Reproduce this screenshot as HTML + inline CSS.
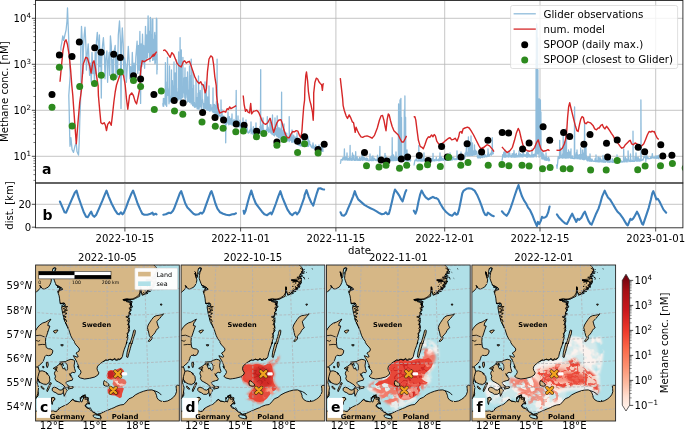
<!DOCTYPE html>
<html><head><meta charset="utf-8"><title>Methane figure</title>
<style>
html,body{margin:0;padding:0;background:#fff}
svg{display:block}
text{font-family:"DejaVu Sans","Liberation Sans",sans-serif;fill:#000}
.b{font-weight:bold}
</style></head><body>
<svg width="685" height="430" viewBox="0 0 685 430">
<defs>
<clipPath id="ca"><rect x="35.5" y="0.5" width="647.4" height="182.5"/></clipPath>
<clipPath id="cb"><rect x="35.5" y="183.0" width="647.4" height="44.80000000000001"/></clipPath>
<clipPath id="cm"><rect x="0" y="0" width="143.7" height="156"/></clipPath>
<filter id="rough" x="-5%" y="-5%" width="110%" height="110%"><feTurbulence type="fractalNoise" baseFrequency="0.45" numOctaves="2" seed="5" result="n"/><feDisplacementMap in="SourceGraphic" in2="n" scale="1.6" xChannelSelector="R" yChannelSelector="G"/></filter>
<filter id="bl05" x="-30%" y="-30%" width="160%" height="160%"><feGaussianBlur stdDeviation="0.45"/></filter>
<filter id="bl07" x="-30%" y="-30%" width="160%" height="160%"><feGaussianBlur stdDeviation="0.7"/></filter>
<filter id="bl1" x="-30%" y="-30%" width="160%" height="160%"><feGaussianBlur stdDeviation="1.3"/></filter>
<filter id="tex1" x="-20%" y="-20%" width="140%" height="140%"><feTurbulence type="turbulence" baseFrequency="0.11" numOctaves="2" seed="4" result="n"/><feColorMatrix in="n" type="matrix" values="0 0 0 0 0  0 0 0 0 0  0 0 0 0 0  0 0 0 -6 2.5" result="a"/><feGaussianBlur in="SourceGraphic" stdDeviation="0.9" result="b"/><feComposite in="b" in2="a" operator="in"/></filter>
<filter id="vein" x="-20%" y="-20%" width="140%" height="140%"><feTurbulence type="turbulence" baseFrequency="0.07 0.1" numOctaves="3" seed="8" result="n"/><feColorMatrix in="n" type="matrix" values="0 0 0 0 0  0 0 0 0 0  0 0 0 0 0  0 0 0 -8 2.3" result="a"/><feGaussianBlur in="SourceGraphic" stdDeviation="0.8" result="b"/><feComposite in="b" in2="a" operator="in"/></filter>
<filter id="tex2" x="-20%" y="-20%" width="140%" height="140%"><feTurbulence type="turbulence" baseFrequency="0.16" numOctaves="2" seed="11" result="n"/><feColorMatrix in="n" type="matrix" values="0 0 0 0 0  0 0 0 0 0  0 0 0 0 0  0 0 0 -10 2.0" result="a"/><feGaussianBlur in="SourceGraphic" stdDeviation="0.7" result="b"/><feComposite in="b" in2="a" operator="in"/></filter>
<filter id="tex3" x="-20%" y="-20%" width="140%" height="140%"><feTurbulence type="fractalNoise" baseFrequency="0.09" numOctaves="3" seed="23" result="n"/><feColorMatrix in="n" type="matrix" values="0 0 0 0 0  0 0 0 0 0  0 0 0 0 0  0 0 0 6 -2.4" result="a"/><feGaussianBlur in="SourceGraphic" stdDeviation="1.2" result="b"/><feComposite in="b" in2="a" operator="in"/></filter>
<linearGradient id="cbg" x1="0" y1="0" x2="0" y2="1"><stop offset="0" stop-color="#67000d"/><stop offset="0.12" stop-color="#a50f15"/><stop offset="0.27" stop-color="#cb181d"/><stop offset="0.42" stop-color="#ef3b2c"/><stop offset="0.55" stop-color="#fb6a4a"/><stop offset="0.68" stop-color="#fc9272"/><stop offset="0.8" stop-color="#fcbba1"/><stop offset="0.9" stop-color="#fee0d2"/><stop offset="1" stop-color="#fff5f0"/></linearGradient>
</defs>
<rect width="685" height="430" fill="#fff"/>
<g id="panel-a">
<line x1="124.9" y1="0.5" x2="124.9" y2="183.0" stroke="#b8b8b8" stroke-width="0.8"/>
<line x1="240.6" y1="0.5" x2="240.6" y2="183.0" stroke="#b8b8b8" stroke-width="0.8"/>
<line x1="335.9" y1="0.5" x2="335.9" y2="183.0" stroke="#b8b8b8" stroke-width="0.8"/>
<line x1="444.7" y1="0.5" x2="444.7" y2="183.0" stroke="#b8b8b8" stroke-width="0.8"/>
<line x1="540.0" y1="0.5" x2="540.0" y2="183.0" stroke="#b8b8b8" stroke-width="0.8"/>
<line x1="655.7" y1="0.5" x2="655.7" y2="183.0" stroke="#b8b8b8" stroke-width="0.8"/>
<line x1="35.5" y1="18.3" x2="682.9" y2="18.3" stroke="#b8b8b8" stroke-width="0.8"/>
<line x1="35.5" y1="64.3" x2="682.9" y2="64.3" stroke="#b8b8b8" stroke-width="0.8"/>
<line x1="35.5" y1="110.3" x2="682.9" y2="110.3" stroke="#b8b8b8" stroke-width="0.8"/>
<line x1="35.5" y1="156.3" x2="682.9" y2="156.3" stroke="#b8b8b8" stroke-width="0.8"/>
<g clip-path="url(#ca)" fill="none" stroke-linejoin="round">
<path d="M60.9,50.8 60.9,47.3 61.9,42.0 62.8,35.9 63.7,40.3 64.9,35.0 66.1,29.8 67.0,21.0 67.5,7.9 68.2,26.3 68.9,43.8 69.6,61.3 70.2,75.3 68.8,95.5 69.2,111.3 69.7,135.8 70.0,146.3 70.9,137.6 72.1,149.8 73.5,152.4 74.9,146.3 76.2,142.8 77.0,151.6 78.5,155.1 79.2,142.8 79.8,120.0 80.5,102.5 81.1,85.0 80.7,52.5 81.5,26.3 82.4,43.8 82.9,73.6 83.3,52.5 84.2,35.0 85.0,27.1 85.9,45.5 86.4,70.1 87.1,56.1 88.2,43.8 88.9,57.8 89.6,75.3 90.3,63.1 91.3,82.3 92.0,52.5 92.9,73.6 93.8,61.3 94.5,84.1 95.2,52.5 95.9,73.6 96.4,42.0 97.3,32.4 98.2,43.8 98.7,77.1 99.4,35.0 100.1,66.6 100.8,50.8 101.3,98.1 101.7,61.3 102.5,45.5 103.4,37.7 104.3,52.5 105.0,78.8 105.7,59.6 106.9,50.8 107.6,82.3 108.2,63.1 109.2,52.5 109.7,75.3 110.4,35.9 111.3,45.5 112.0,73.6 112.7,59.6 113.4,80.6 113.9,52.5 115.2,45.5 115.9,73.6 116.6,52.5 117.5,77.1 118.3,35.0 119.5,21.0 120.4,40.3 121.0,108.6 121.5,49.0 122.3,28.0 123.2,43.8 123.9,77.1 124.5,57.8 125.7,64.8 126.4,82.3 127.1,70.1 128.3,46.4 129.2,61.3 129.9,78.8 130.6,66.6 131.5,82.3 132.3,52.5 133.2,77.1 134.1,63.1 135.0,80.6 135.8,57.8 137.1,41.2 137.8,73.6 138.5,45.5 139.2,70.1 139.9,31.5 140.6,103.4 141.1,43.8 141.8,66.6 142.5,34.2 143.2,63.1 143.7,45.5 144.6,68.3 145.5,26.3 146.2,59.6 146.7,35.0 147.4,57.8 148.1,15.8 148.8,52.5 149.3,31.5 149.5,59.8 149.7,33.9 149.8,57.8 150.0,61.7 150.2,20.2 150.4,17.5 150.6,55.8 150.8,19.1 151.1,52.5 151.2,52.9 151.4,36.0 151.6,35.0 151.8,56.3 152.0,36.3 152.1,56.1 152.2,56.5 152.4,21.9 152.5,19.3 152.6,60.4 152.8,19.0 153.0,57.8 153.1,58.6 153.3,42.4 153.4,40.3 153.7,59.8 153.9,39.5 154.2,56.1 154.4,59.5 154.6,33.8 154.8,32.4 154.9,63.7 155.1,35.2 155.3,57.8 155.4,63.0 155.6,45.6 155.6,43.8 155.8,58.7 156.0,46.3 156.2,57.8 156.2,59.7 156.4,18.1 156.5,18.4 156.6,53.6 156.8,19.1 156.9,52.5 156.9,73.9 157.1,54.1 157.2,70.1" stroke="#8fbcdb" stroke-width="1.3"/>
<path d="M162.8,103.1 163.1,106.2 163.4,98.4 163.7,106.3 164.1,98.7 164.4,99.1 164.8,102.2 165.2,95.3 165.2,104.2 165.4,62.6 165.6,75.2 165.7,102.6 165.9,105.1 166.3,103.2 166.7,106.3 167.1,82.0 167.2,93.8 167.4,91.6 167.5,57.3 167.8,95.4 167.8,88.1 168.1,92.5 168.6,91.3 169.0,103.8 169.2,90.8 169.4,85.5 169.5,66.0 169.8,98.6 169.8,101.3 170.2,101.9 170.6,101.6 170.9,100.5 171.2,95.6 171.3,100.8 171.5,70.0 171.6,99.3 171.8,89.7 171.9,97.1 172.4,80.7 172.8,99.5 173.2,92.5 173.6,85.9 173.8,96.8 173.9,96.7 174.0,62.0 174.2,96.0 174.2,93.4 174.5,100.0 174.8,98.8 175.2,72.8 175.6,96.9 176.0,81.2 176.2,87.0 176.3,86.4 176.5,60.0 176.7,90.3 176.8,88.1 177.0,100.0 177.4,98.9 177.7,99.7 178.0,91.9 178.2,100.0 178.3,99.6 178.5,98.1 178.6,52.0 178.8,95.2 178.8,87.2 179.1,94.4 179.5,98.8 179.7,76.2 179.8,93.3 180.1,37.7 180.2,100.0 180.4,93.0 180.5,92.1 180.8,89.5 181.1,92.5 181.1,99.7 181.3,50.0 181.5,96.6 181.6,97.9 181.8,86.8 182.2,88.5 182.6,94.4 182.7,97.7 182.9,57.3 183.0,96.8 183.2,89.2 183.4,92.9 183.7,90.8 184.2,77.9 184.6,91.2 184.8,97.9 185.0,68.0 185.0,93.2 185.2,94.0 185.3,101.1 185.6,96.0 186.0,87.3 186.3,77.3 186.8,88.0 187.1,97.8 187.2,94.0 187.4,102.0 187.5,72.0 187.7,80.7 187.8,90.3 188.1,97.3 188.5,101.3 188.9,89.9 189.2,100.8 189.3,83.1 189.5,66.0 189.7,102.4 189.8,92.0 190.1,75.4 190.4,102.1 190.9,83.6 190.9,91.1 191.2,104.1 191.2,59.1 191.4,92.6 191.5,101.5 191.9,88.3 192.3,97.1 192.7,105.6 192.8,99.0 192.9,78.8 193.0,72.0 193.2,93.4 193.3,104.5 193.7,85.1 194.0,106.6 194.4,102.5 194.7,107.3 195.1,105.8 195.5,107.2 195.8,103.3 195.9,95.1 196.0,80.0 196.2,97.1 196.3,106.1 196.7,97.3 196.9,107.1 197.2,108.9 197.7,108.9 198.0,93.2 198.2,103.1 198.4,108.6 198.5,76.0 198.8,100.5 198.8,107.9 199.1,109.3 199.4,93.3 199.8,107.0 200.2,90.3 200.6,106.4 200.9,100.3 201.3,108.4 201.7,101.1 201.8,102.5 202.0,84.0 202.2,99.0 202.2,100.6 202.5,99.4 202.9,102.0 203.2,108.3 203.5,110.0 203.8,109.1 204.2,103.4 204.7,107.8 204.8,103.2 205.0,82.0 205.1,101.1 205.2,108.5 205.6,106.7 206.0,108.9 206.4,90.1 206.8,109.9 207.1,101.0 207.5,110.0 207.8,96.9 208.1,107.9 208.4,110.4 208.7,107.3 208.8,110.2 209.0,86.0 209.1,96.1 209.2,101.2 209.5,111.0 209.9,110.7 210.3,110.9 210.6,104.6 211.0,104.8 211.3,109.8 211.8,109.3 212.2,111.1 212.4,108.0 212.8,106.8 212.8,111.7 213.0,88.0 213.2,112.7 213.2,105.2 213.7,112.3 214.1,111.9 214.4,104.4 214.9,113.4 215.2,105.4 215.5,114.0 215.8,113.7 216.0,113.9 216.4,101.6 216.7,113.1 216.8,113.2 217.0,109.9 217.1,59.1 217.2,110.7 217.3,115.2 217.6,113.6 218.0,108.0 218.2,103.9 218.6,116.1 219.0,113.1 219.4,115.5 219.8,115.5 220.3,116.6 220.7,115.6 220.8,120.5 221.0,120.8 221.0,100.0 221.2,115.7 221.3,118.2 221.5,121.2 222.0,109.9 222.4,121.6 222.7,119.1 223.0,122.4 223.4,120.1 223.8,116.0 224.2,121.1 224.7,123.4 225.0,124.0 225.3,123.1 225.4,124.2 225.7,122.5 225.7,142.8 225.9,122.7 226.1,124.2 226.4,124.0 226.7,124.0 227.0,118.7 227.3,121.5 227.7,117.6 227.8,122.7 228.0,112.0 228.2,118.8 228.2,123.0 228.4,117.9 228.8,124.8 229.3,116.6 229.7,122.5 230.1,124.2 230.4,124.2 230.9,118.3 231.3,123.9 231.8,124.4 231.8,119.8 232.0,114.0 232.2,125.3 232.2,125.2 232.5,124.8 232.9,124.4 233.3,120.7 233.7,124.9 234.0,119.3 234.4,124.9 234.7,120.8 235.0,123.6 235.3,125.5 235.6,123.8 235.9,120.4 235.9,124.2 236.2,90.3 236.4,125.5 236.4,124.7 236.8,120.6 237.2,125.1 237.4,125.9 237.7,124.7 237.8,124.8 238.0,116.0 238.1,126.8 238.2,127.0 238.4,125.5 238.8,122.4 239.1,126.7 239.4,124.5 239.7,124.3 240.0,120.2 240.5,128.3 240.8,122.2 241.3,128.2 241.6,127.8 242.0,129.2 242.4,128.7 242.8,126.6 242.8,125.5 243.0,118.0 243.1,123.0 243.2,127.9 243.5,130.1 243.9,127.1 244.2,130.6 244.5,127.8 244.8,131.0 245.2,129.2 245.6,131.5 245.8,128.4 246.0,120.0 246.0,124.5 246.2,131.3 246.4,128.4 246.7,129.8 247.1,127.6 247.5,130.3 247.8,132.7 248.1,132.5 248.5,133.0 249.0,131.8 249.3,132.5 249.6,131.0 250.0,130.1 250.4,129.1 250.8,131.1 250.9,129.7 251.0,122.0 251.2,133.7 251.3,128.4 251.6,131.8 252.0,132.4 252.3,130.3 252.5,131.0 252.9,134.2 253.3,126.7 253.6,133.0 253.9,130.7 254.2,134.7 254.5,133.7 255.0,134.2 255.3,127.8 255.7,134.3 255.8,134.0 256.0,123.0 256.0,132.6 256.2,134.4 256.3,134.6 256.6,130.6 257.0,132.3 257.4,131.7 257.8,134.1 258.1,134.1 258.4,129.9 258.7,130.8 259.1,130.9 259.4,132.5 259.7,133.6 260.0,126.4 260.4,130.4 260.4,133.6 260.7,69.6 260.7,126.6 260.9,130.8 261.1,132.4 261.3,130.8 261.8,130.3 262.2,125.0 262.5,133.0 262.8,128.7 262.8,129.0 263.0,118.0 263.2,131.1 263.2,129.6 263.6,129.1 264.0,132.4 264.4,130.7 264.8,130.4 265.2,131.3 265.5,130.5 265.9,131.6 266.1,131.3 266.5,129.3 266.8,131.0 267.1,127.7 267.1,130.2 267.3,116.6 267.4,128.2 267.6,129.4 267.8,131.0 268.1,127.1 268.5,130.5 268.7,132.3 269.1,129.4 269.5,131.2 269.8,131.9 269.9,131.9 270.0,119.0 270.2,131.3 270.2,131.4 270.5,124.9 270.9,133.1 271.2,122.4 271.5,130.1 271.8,132.6 272.2,134.6 272.2,131.8 272.5,114.9 272.7,132.9 272.8,133.9 273.0,132.6 273.5,134.1 273.8,135.4 274.3,134.5 274.5,135.9 274.8,131.4 274.9,124.6 275.0,118.0 275.2,129.7 275.3,129.7 275.6,134.6 276.1,132.9 276.3,128.7 276.7,136.2 276.9,135.2 277.0,135.4 277.2,115.8 277.3,130.1 277.4,134.7 277.5,124.9 277.8,136.8 278.3,127.7 278.6,137.7 279.0,134.2 279.4,138.0 279.7,128.0 280.0,137.7 280.4,130.3 280.7,138.7 280.9,128.8 281.3,136.0 281.4,137.3 281.6,92.2 281.7,128.8 281.9,137.7 282.1,139.0 282.5,136.7 282.8,139.4 283.2,130.1 283.6,134.3 283.8,134.9 283.9,137.9 284.0,124.0 284.2,139.3 284.2,134.9 284.5,136.2 284.9,135.0 285.2,132.4 285.6,136.7 286.0,134.9 286.3,140.2 286.7,133.2 286.9,140.7 287.3,139.1 287.6,141.0 288.0,138.6 288.4,137.1 288.9,139.5 288.9,138.3 289.2,141.7 289.2,116.6 289.4,139.6 289.5,140.1 289.9,140.3 290.3,135.1 290.7,140.2 291.0,134.6 291.3,141.0 291.6,136.1 291.8,141.8 291.9,142.3 292.0,130.0 292.2,138.0 292.2,138.6 292.6,142.1 293.0,139.0 293.3,139.9 293.7,135.1 294.0,142.2 294.4,136.9 294.9,143.0 295.2,142.6 295.5,139.3 295.9,136.9 296.2,140.7 296.5,142.5 296.8,142.1 297.0,140.4 297.0,133.0 297.2,143.1 297.2,142.0 297.6,144.5 297.9,143.3 298.3,143.5 298.5,145.1 298.9,143.6 299.2,143.6 299.5,143.1 299.8,145.6 300.1,145.6 300.5,141.4 300.7,146.0 301.1,143.4 301.5,145.9 301.9,144.3 302.3,145.9 302.6,139.8 302.8,144.9 303.0,136.0 303.1,144.3 303.2,145.6 303.4,146.3 303.8,145.9 304.3,143.9 304.7,145.9 305.0,146.5 305.4,145.2 305.8,146.2 306.2,146.3 306.6,145.9 306.9,145.9 307.3,146.2 307.7,144.3 307.8,146.1 308.0,137.0 308.2,140.1 308.2,146.4 308.6,146.2 308.9,140.4 309.2,143.7 309.6,141.4 309.9,144.8 310.2,144.7 310.6,144.7 310.9,146.3 311.3,146.9 311.6,147.2 311.9,146.2 312.3,148.0 312.7,146.3 313.0,142.8 313.2,147.5 313.6,144.8 313.9,148.5 314.3,146.6 314.7,148.9 315.1,149.5 315.4,149.1 315.7,144.8 316.2,149.5 316.5,147.3 316.7,150.2 317.1,149.9 317.4,149.7 317.7,146.6 318.0,148.8 318.4,147.8 318.6,150.1 319.0,144.9 319.3,148.4 319.7,146.8 320.1,151.0 320.6,148.7 321.1,148.6 321.4,147.2 321.8,151.5 322.1,147.7 322.4,149.3 322.7,147.6 323.0,151.3 323.5,151.2" stroke="#8fbcdb" stroke-width="1.3"/>
<path d="M340.3,163.7 340.7,162.4 341.0,159.8 341.5,159.4 342.0,159.9 342.4,160.0 342.9,157.6 343.2,158.1 343.6,158.1 344.1,160.1 344.1,158.2 344.4,149.0 344.6,156.3 344.6,158.9 345.0,156.7 345.4,159.3 345.9,160.0 346.2,156.9 346.5,158.6 346.8,158.4 346.8,157.7 347.0,153.0 347.2,158.2 347.3,160.1 347.6,160.1 347.9,159.7 348.3,158.6 348.8,160.2 349.2,157.7 349.4,160.2 349.8,160.1 349.9,159.5 350.1,145.5 350.2,159.9 350.4,158.5 350.5,157.9 350.9,160.2 351.4,159.9 351.7,160.2 352.1,155.9 352.2,159.1 352.5,153.0 352.6,160.2 352.8,159.5 353.0,158.4 353.4,159.8 353.8,155.2 354.3,160.3 354.8,160.3 355.2,160.2 355.4,160.3 355.5,160.3 355.7,151.7 355.9,158.7 356.0,157.7 356.3,160.1 356.7,160.2 357.1,156.6 357.5,160.3 357.8,160.3 358.3,159.2 358.8,160.4 359.2,159.5 359.6,157.3 360.0,160.4 360.3,160.1 360.6,160.4 361.1,157.7 361.6,159.7 361.8,158.3 361.9,158.7 362.0,153.5 362.2,159.0 362.3,160.4 362.7,155.3 363.1,158.6 363.3,160.1 363.7,159.6 364.2,157.4 364.5,158.6 364.9,160.2 365.4,160.1 365.8,158.1 366.4,160.4 366.8,157.8 367.3,160.4 367.8,158.7 368.1,160.5 368.6,160.5 369.1,160.5 369.3,160.4 369.8,160.4 369.8,160.5 370.0,154.0 370.2,157.8 370.2,160.4 370.6,159.8 371.0,160.5 371.5,160.5 371.9,156.7 372.4,160.5 372.9,155.8 373.4,160.5 373.8,160.4 374.1,158.9 374.5,158.2 375.0,160.1 375.4,160.4 375.7,159.5 376.0,159.9 376.4,160.5 376.7,160.0 377.2,160.5 377.5,155.2 377.9,158.8 378.3,160.5 378.7,160.4 379.2,159.8 379.6,160.3 379.6,158.0 379.9,146.4 380.0,156.7 380.1,160.2 380.3,160.5 380.6,157.2 381.1,160.5 381.5,159.1 382.0,160.5 382.4,159.8 382.9,160.5 383.4,160.0 383.7,159.8 384.1,160.4 384.6,160.5 384.8,158.5 385.0,153.5 385.0,158.2 385.2,158.2 385.4,160.4 385.8,155.9 386.1,158.4 386.4,160.3 386.7,158.3 387.1,159.7 387.6,160.5 388.0,158.8 388.4,159.5 388.9,159.8 389.2,160.5 389.7,157.9 390.2,160.5 390.6,157.0 391.0,160.5 391.4,155.9 391.7,160.5 391.9,160.0 392.1,157.6 392.2,137.7 392.4,160.0 392.5,160.5 392.9,158.9 393.2,160.5 393.5,154.9 394.0,160.5 394.5,160.4 394.9,157.2 395.4,157.3 395.7,160.5 395.8,160.2 396.0,152.0 396.2,159.6 396.2,159.9 396.5,160.4 396.9,157.6 397.3,160.0 397.7,160.4 398.1,160.4 398.3,157.8 398.6,104.0 398.6,158.5 398.9,159.2 399.0,158.4 399.1,160.5 399.3,112.0 399.4,157.0 399.6,157.9 399.7,158.7 399.8,158.8 400.0,100.0 400.3,160.0 400.3,159.2 400.6,158.3 400.7,160.6 400.9,98.3 401.1,158.2 401.2,158.5 401.2,158.8 401.4,160.5 401.5,117.5 401.8,159.4 401.8,157.9 402.3,160.7 402.8,157.0 403.1,160.5 403.7,160.7 404.0,157.9 404.1,160.7 404.3,110.0 404.5,160.7 404.6,159.1 404.6,159.2 404.9,96.0 405.0,160.6 405.2,158.6 405.3,159.6 405.4,156.7 405.6,117.5 405.8,160.8 405.9,158.0 406.2,159.9 406.7,160.8 406.8,159.8 407.0,150.0 407.2,160.4 407.2,160.7 407.6,160.9 408.0,159.8 408.4,160.9 408.8,160.6 409.2,158.2 409.6,160.7 410.1,160.9 410.4,160.9 410.9,159.6" stroke="#8fbcdb" stroke-width="1.3"/>
<path d="M414.0,165.5 414.4,162.8 414.9,160.4 415.4,159.8 415.8,159.9 416.2,160.8 416.5,157.5 416.9,159.5 417.2,160.3 417.5,160.9 417.9,161.0 418.3,161.0 418.6,159.9 418.7,160.5 418.8,145.5 419.1,159.4 419.1,160.5 419.4,156.7 419.9,161.0 420.4,156.9 420.9,161.0 421.3,159.0 421.6,161.0 422.1,158.8 422.5,161.0 422.8,160.7 423.2,161.0 423.6,156.9 423.8,160.6 424.0,153.0 424.0,160.7 424.2,158.8 424.5,158.8 425.0,159.9 425.5,160.8 425.9,160.8 426.4,160.0 426.9,160.8 427.2,160.7 427.5,160.9 427.8,159.9 428.1,160.9 428.5,159.5 429.0,161.0 429.5,159.9 429.9,160.5 430.4,160.3 430.8,158.5 431.1,158.9 431.5,160.9 431.9,158.6 432.4,160.9 432.8,158.7 433.0,159.6 433.0,153.5 433.2,160.8 433.4,160.2 433.8,160.3 434.3,160.8 434.7,159.5 435.1,160.8 435.5,160.0 435.9,159.6 436.3,157.5 436.7,160.6 437.0,159.5 437.5,160.3 438.0,160.2 438.3,160.7 438.8,158.8 439.2,160.7 439.7,157.0 439.8,160.5 440.0,153.0 440.1,160.7 440.2,160.0 440.4,156.7 440.8,160.2 441.3,156.8 441.7,160.3 442.2,158.4 442.6,160.1 442.9,158.5 443.3,159.7 443.6,160.4 443.9,159.7 444.4,158.6 444.8,159.4 445.3,159.1 445.6,160.4 446.0,160.0 446.4,160.0 446.9,160.3 447.3,160.3 447.6,157.3 448.0,158.4 448.4,160.2 448.8,159.9 449.3,155.7 449.7,160.1 449.8,159.7 450.0,158.2 450.0,153.0 450.2,160.1 450.3,160.1 450.7,160.0 451.3,160.0 451.7,159.9 452.0,159.3 452.4,157.4 452.7,159.9 453.2,157.5 453.6,159.1 453.9,157.9 454.4,159.7 454.9,159.4 455.4,159.0 455.7,159.7 456.1,158.5 456.4,159.2 456.8,158.4 456.9,159.6 457.0,150.8 457.2,159.4 457.4,158.9 457.8,159.4 458.2,159.4 458.7,159.4 459.1,157.5 459.5,159.3 460.0,155.0 460.5,159.1 460.8,157.5 460.8,159.3 461.0,152.0 461.2,157.2 461.3,159.2 461.7,154.5 462.2,158.9 462.6,158.2 463.1,159.1 463.5,157.3 464.0,157.9 464.4,159.0 464.7,158.4 465.1,153.1 465.6,156.2 466.1,150.7 466.2,153.7 466.5,143.0 466.6,153.6 466.8,154.8 467.1,152.2 467.6,155.8 467.9,153.4 468.1,152.1 468.3,155.7 468.4,136.8 468.6,154.8 468.8,152.9 469.2,155.5 469.4,152.6 469.6,155.1 469.6,142.0 469.9,153.8 470.0,155.6 470.5,151.0 470.8,152.2 470.8,155.1 471.0,135.9 471.2,153.5 471.3,153.8 471.7,155.4 472.1,155.1 472.2,154.0 472.5,143.0 472.5,155.3 472.8,153.3 472.9,155.1 473.2,151.0 473.6,155.2 474.0,153.7 474.2,153.3 474.3,152.6 474.5,145.0 474.7,155.1 474.8,155.1 475.2,149.8 475.6,154.7 476.0,150.8 476.3,152.3 476.8,151.8 477.3,157.0 477.6,157.1 477.9,157.9 478.2,156.2 478.7,157.9 479.2,153.4 479.5,157.7 479.9,157.9 480.4,158.0 480.8,155.9 481.3,157.4 481.7,156.8 482.0,155.2 482.5,157.4 482.8,157.6 483.2,153.4 483.7,156.0 483.8,155.6 484.0,154.2 484.0,150.0 484.2,154.8 484.4,157.2 484.7,154.3 485.2,156.5 485.6,155.2 486.1,156.9 486.4,156.5 486.7,156.6 487.0,156.4 487.4,156.0 487.6,154.0 487.8,155.8 488.0,156.5 488.0,149.0 488.2,154.0 488.5,152.6 489.0,156.2 489.3,156.1 489.9,154.6 490.3,154.7 490.6,154.1 491.0,152.8 491.4,155.1 491.6,150.5 492.1,152.0 492.1,154.3 492.3,137.7 492.5,153.6 492.6,151.0 492.9,150.1 493.3,153.7 493.7,154.0" stroke="#8fbcdb" stroke-width="1.3"/>
<path d="M501.9,160.7 502.3,159.3 502.7,154.6 502.9,156.7 503.2,156.3 503.4,156.9 503.8,152.1 504.2,157.0 504.4,152.8 504.7,155.9 504.8,155.0 504.9,152.3 505.0,150.0 505.1,157.0 505.2,156.2 505.3,153.3 505.7,157.0 505.9,152.8 506.2,156.5 506.4,156.6 506.8,156.0 507.0,156.9 507.2,156.4 507.5,156.2 507.8,156.4 508.1,153.5 508.4,157.0 508.7,154.0 508.8,155.2 508.9,156.0 509.0,151.0 509.2,153.4 509.2,156.2 509.5,156.7 509.7,153.0 510.0,155.2 510.3,156.6 510.7,156.9 510.9,155.9 511.2,157.0 511.5,155.5 511.8,157.0 512.2,153.6 512.5,156.9 512.9,155.8 513.2,157.0 513.6,152.8 513.8,155.8 513.9,156.7 514.0,150.5 514.2,152.7 514.2,157.0 514.4,157.0 514.7,156.4 515.0,157.0 515.2,154.3 515.5,157.0 515.8,154.9 516.1,156.1 516.3,153.3 516.7,157.0 516.9,155.3 517.2,156.9 517.4,155.7 517.7,156.5 518.0,156.7 518.4,155.9 518.6,153.6 518.8,155.1 519.0,156.9 519.0,151.0 519.2,155.8 519.3,155.8 519.6,155.8 519.9,156.4 520.2,156.8 520.6,153.7 520.9,155.6 521.3,156.9 521.6,154.6 522.0,156.4 522.3,156.3 522.5,155.1 522.8,157.0 522.8,156.8 523.0,150.0 523.1,152.7 523.2,156.7 523.4,154.8 523.7,153.7 524.1,155.1 524.3,154.6 524.6,156.2 524.8,155.1 525.2,156.4 525.5,155.2 525.8,154.7 526.0,156.1 526.4,157.0 526.7,152.7 527.0,157.0 527.3,155.1 527.5,157.0 527.7,156.2 527.8,156.3 528.0,151.0 528.0,157.0 528.2,156.4 528.3,153.4 528.6,156.5 529.0,156.5 529.3,156.7 529.6,154.6 529.9,156.9 530.2,156.4 530.5,156.9 530.8,157.0 531.1,155.2 531.3,154.9 531.6,156.9 531.8,156.3 532.0,149.0 532.0,156.6 532.2,155.1 532.2,155.1 532.5,156.9 532.8,156.8 533.1,156.8 533.4,154.4 533.7,156.6 534.0,156.9 534.3,154.5 534.7,155.4 535.0,153.7 535.3,155.7 535.6,147.2 536.0,140.5 536.0,140.9 536.1,60.0 536.2,130.9 536.2,156.9 536.2,147.2 536.4,30.0 536.5,152.8 536.5,138.0 536.6,141.1 536.7,24.0 536.8,136.8 536.9,139.3 536.9,147.5 537.0,28.0 537.1,147.7 537.1,147.4 537.1,148.6 537.3,45.0 537.3,145.7 537.4,145.0 537.5,139.5 537.6,38.0 537.6,153.9 537.8,138.2 537.8,152.8 537.9,70.0 537.9,153.9 538.0,150.1 538.2,151.7 538.2,135.8 538.4,99.0 538.4,120.7 538.5,149.6 538.8,147.9 538.8,133.5 538.9,103.0 539.0,137.2 539.1,157.2 539.2,137.9 539.3,152.9 539.4,99.0 539.5,141.0 539.6,139.6 539.8,146.9 539.9,104.0 540.0,149.9 540.0,146.9 540.2,148.1 540.2,150.9 540.4,100.0 540.5,139.2 540.6,150.7 540.8,152.9 540.9,156.4 540.9,112.0 541.0,150.7 541.1,155.4 541.5,152.4 541.8,158.8 542.1,152.6 542.4,158.7 542.8,156.5 542.8,158.9 543.0,153.0 543.0,159.0 543.2,156.9 543.3,154.4 543.6,157.7 544.0,155.0 544.3,159.8 544.5,157.8 544.8,159.9 545.1,157.4 545.4,160.0 545.8,159.5 545.8,157.5 546.0,160.0 546.0,153.0 546.2,158.5 546.3,160.3 546.6,158.6 546.9,157.5 547.2,160.1 547.5,159.7 547.8,160.1 548.2,158.3 548.5,160.7 548.7,157.3 548.9,160.8 549.2,158.8 549.5,160.2 549.9,160.9" stroke="#8fbcdb" stroke-width="1.3"/>
<path d="M556.6,164.5 557.0,168.3 557.3,165.9 557.7,162.6 558.2,156.6 558.5,158.7 558.9,158.7 559.4,158.2 559.5,156.8 559.7,140.3 559.9,158.0 560.0,156.1 560.2,155.0 560.5,154.9 560.7,157.5 560.8,148.0 561.0,156.9 561.2,157.6 561.7,156.0 562.2,158.0 562.6,153.9 562.9,158.0 563.0,156.1 563.2,135.0 563.4,157.5 563.5,154.8 563.7,157.9 564.0,150.4 564.0,155.8 564.3,142.0 564.4,157.7 564.5,157.5 564.8,156.7 565.1,158.0 565.5,157.0 565.5,157.2 565.8,128.9 565.9,158.0 566.0,156.9 566.2,154.5 566.2,157.4 566.5,140.0 566.5,158.0 566.8,155.2 566.9,152.4 567.2,157.9 567.7,152.9 568.0,158.0 568.2,157.3 568.4,157.0 568.5,150.0 568.8,154.4 568.9,157.9 569.3,156.5 569.6,157.2 569.9,151.8 570.3,158.2 570.7,155.3 570.8,154.8 571.0,149.0 571.0,158.1 571.2,157.8 571.4,157.8 571.9,158.3 572.3,155.8 572.7,158.4 573.0,158.2 573.5,158.5 573.9,158.4 574.3,157.4 574.3,158.5 574.6,107.0 574.7,157.8 574.9,158.3 575.1,158.6 575.5,158.0 575.9,155.5 576.4,152.5 576.8,158.7 576.8,158.7 577.0,150.0 577.2,155.2 577.2,156.1 577.6,158.7 578.0,154.9 578.3,156.5 578.7,155.7 579.0,158.9 579.5,154.6 580.0,159.0 580.3,158.8 580.5,159.0 580.6,159.0 580.7,148.0 581.0,157.8 581.0,155.8 581.3,156.9 581.7,154.9 582.0,159.2 582.2,155.7 582.5,158.3 582.5,150.0 582.8,156.0 582.8,159.4 583.1,152.9 583.5,159.6 583.8,159.5 584.3,159.7 584.3,156.2 584.6,123.7 584.8,155.2 584.9,159.4 585.2,158.2 585.6,159.2 585.8,156.0 585.9,155.3 586.0,147.0 586.2,157.1 586.3,155.3 586.8,159.9 587.2,160.7 587.6,160.9 588.0,156.7 588.4,160.1 588.6,158.6 589.1,161.1 589.5,156.4 589.8,161.1 590.0,161.0 590.0,154.0 590.2,160.3 590.3,160.4 590.6,161.2 590.9,158.8 591.4,161.3 591.7,160.0 592.1,159.1 592.5,160.9 593.0,161.4 593.4,160.9 593.9,161.3 594.3,161.4 594.8,161.3 595.1,158.7 595.6,161.6 595.8,161.5 596.0,161.0 596.0,155.0 596.2,161.0 596.3,161.7 596.8,160.7 597.1,161.7 597.5,161.1 597.8,161.8 598.1,156.9 598.5,161.9 599.0,157.1 599.4,161.9 599.8,161.0 600.1,161.8 600.4,157.8 600.8,161.6 601.3,159.9 601.7,162.0 602.0,162.1 602.4,160.7 602.8,160.0 602.8,161.9 603.0,155.5 603.2,162.1 603.2,159.8 603.7,158.8 604.2,162.1 604.5,158.8 604.8,162.1 605.3,161.5 605.7,162.2 606.0,160.7 606.5,161.0 606.9,158.3 607.4,162.1 607.8,162.1 608.2,162.0 608.5,160.0 608.8,162.2 609.3,162.3 609.6,162.2 609.8,160.4 609.9,159.9 610.0,156.0 610.2,161.4 610.2,160.3 610.6,162.0 611.0,162.2 611.4,161.8 611.8,161.9 612.3,158.7 612.6,162.4 613.0,161.0 613.3,162.4 613.6,162.0 614.0,160.1 614.5,159.1 615.0,160.2 615.5,159.5 615.7,162.0 616.2,162.0 616.6,160.2 616.8,161.6 617.0,160.4 617.0,155.0 617.2,160.3 617.3,162.4 617.7,160.2 618.1,162.3 618.5,161.6 618.9,162.2 619.3,160.7 619.7,162.2 620.0,158.4 620.4,162.2 620.9,161.8 621.2,162.0 621.6,160.9 622.0,162.1 622.4,162.0 622.8,161.8 623.1,161.2 623.4,161.9 623.5,160.6 623.7,149.0 623.9,159.1 624.0,160.2 624.2,159.1 624.6,161.9 625.1,161.9 625.4,157.2 625.9,160.9 626.2,158.7 626.5,161.8 626.8,161.8 627.2,161.8 627.6,159.1 627.9,159.4 628.0,159.9 628.1,150.8 628.4,160.2 628.4,157.3 628.9,161.7 629.4,161.0 629.8,161.0 630.2,159.6 630.3,161.5 630.5,154.0 630.7,160.8 630.8,159.0 631.0,159.6 631.3,161.3 631.7,161.4 632.2,160.9 632.6,161.3 632.8,161.1 633.0,159.9 633.0,131.2 633.2,161.4 633.4,161.4 633.9,161.4 634.3,160.9 634.7,161.3 635.0,157.0 635.4,160.6 635.8,160.3 635.9,156.1 636.0,153.0 636.2,161.1 636.2,160.8 636.7,157.5 637.0,161.2 637.5,158.5 637.8,161.0 638.1,157.0 638.5,159.2 638.9,161.1 639.3,161.1 639.8,159.0 640.1,161.0 640.5,159.7 640.6,160.7 640.9,160.8 640.9,100.0 641.2,159.0 641.2,160.1 641.5,160.5 642.0,160.4 642.4,159.7 642.7,159.8 643.1,160.0 643.5,158.2 644.0,156.2 644.3,157.7 644.8,157.5 645.2,156.9 645.5,156.6 645.7,159.1 645.8,161.5 646.0,153.7 646.0,156.4 646.5,158.9 646.9,155.7 647.3,158.4 647.7,157.0 648.1,158.8 648.4,158.1 649.0,158.5 649.3,158.3 649.7,158.6 650.0,158.6 650.5,158.4 650.9,156.7 651.2,158.4 651.5,157.9 651.9,157.6 652.3,153.6 652.6,156.1 653.0,158.2 653.4,157.9 653.9,157.5 654.4,158.0 654.8,158.0 655.2,156.2 655.6,157.8 655.9,158.2 656.2,155.8 656.5,158.3 656.9,156.6 657.4,158.1 657.7,155.9 658.2,158.4 658.5,155.5 659.0,158.8 659.3,158.8" stroke="#8fbcdb" stroke-width="1.3"/>
<path d="M60.0,81.8 61.3,67.8 63.0,50.3 64.8,41.5 66.0,39.8 67.4,44.2 69.2,55.5 70.6,69.6 71.8,85.3 72.8,95.5 73.9,111.3 75.3,130.6 76.3,143.7 77.9,123.5 79.7,102.5 81.4,90.3 82.0,80.1 83.2,64.3 85.8,57.3 87.5,58.2 89.7,66.1 91.1,73.1 92.8,62.5 94.0,60.8 95.4,67.8 97.2,80.1 98.1,85.3 98.4,95.5 99.8,111.3 100.9,122.7 102.5,123.9 104.2,122.7 105.4,125.3 106.5,130.6 107.7,124.4 109.5,121.8 111.2,125.3 112.4,115.7 113.8,102.5 115.2,92.0 116.5,85.0 118.2,80.1 120.0,74.8 121.7,72.7 123.5,75.7 124.7,81.8 125.2,85.3 126.5,99.0 127.8,109.2 129.6,95.5 131.7,92.9 133.4,95.5 135.2,101.6 136.6,103.9 138.4,95.5 139.8,88.5 140.1,78.3 141.0,67.8 142.2,60.8 144.5,61.7 147.1,59.9 150.6,58.2 153.2,54.7 155.0,53.8 152.6,56.4 154.4,55.5 155.8,52.9 156.7,51.7" stroke="#d62728" stroke-width="1.4"/>
<path d="M163.1,50.6 164.9,49.9 166.6,51.7 168.4,54.7 170.2,57.3 171.9,52.6 173.7,54.7 175.4,59.0 177.2,63.4 178.9,65.7 181.2,66.9 183.3,61.7 184.7,60.8 186.3,63.1 187.7,62.0 189.4,61.3 191.2,66.1 192.9,71.3 194.7,76.6 196.9,81.0 199.1,83.6 200.8,81.8 202.0,84.5 203.4,85.0 205.2,92.9 206.4,88.5 207.5,71.3 209.0,59.0 210.8,55.9 212.5,57.3 213.6,64.3 214.8,76.6 216.2,85.3 216.6,95.5 218.0,107.8 219.7,113.0 221.8,112.2 223.6,111.3 225.7,112.2 227.1,108.7 228.5,109.5 229.7,106.9 230.9,108.7 232.3,107.8 234.1,106.9 236.2,105.7" stroke="#d62728" stroke-width="1.4"/>
<path d="M243.2,95.5 244.1,104.3 245.5,111.3 246.7,109.5 248.1,112.2 249.5,113.0 250.7,103.4 251.6,113.9 253.4,111.3 255.1,110.9 256.9,110.4 258.6,112.2 260.4,116.5 262.1,120.9 263.9,123.5 265.6,124.4 267.7,122.7 270.0,118.3 270.2,118.4 271.6,123.7 273.0,129.8 273.7,132.4 275.1,128.0 276.9,122.8 278.6,120.2 280.8,119.6 282.1,122.8 283.9,129.8 285.7,135.0 287.4,137.7 289.2,137.7 290.9,134.2 292.7,131.5 294.4,131.9 296.2,130.7 297.9,131.2 299.7,135.9 300.9,137.7 301.9,131.5 302.6,121.0 303.7,107.0 304.6,100.0 304.9,87.8 305.8,75.5 306.5,72.0 307.6,80.8 308.4,91.3 309.7,100.1 311.1,105.3 312.5,112.3 313.2,120.2 313.7,108.8 313.7,93.1 314.9,82.5 316.3,78.2 317.7,79.0 318.9,81.7 320.2,83.4 321.6,84.7 322.4,90.4 323.0,84.3 323.7,83.4" stroke="#d62728" stroke-width="1.4"/>
<path d="M340.3,78.2 341.2,86.1 342.6,98.3 343.1,105.3 344.3,110.5 346.1,115.8 347.5,118.4 349.2,114.9 351.0,118.4 352.4,121.9 353.6,122.8 355.2,132.4 356.1,127.2 357.5,130.7 359.2,134.2 361.0,136.8 362.7,137.3 364.5,136.4 367.1,135.9 369.7,136.8 372.0,138.2 374.1,135.9 374.6,135.0 377.3,128.0 379.4,120.2 381.1,115.8 382.5,115.4 383.9,120.2 385.1,126.3 386.0,130.7 387.2,119.3 388.3,114.0 389.2,114.9 390.4,120.2 392.1,126.3 393.9,130.7 396.5,133.3 398.3,135.0 400.0,138.5 401.8,142.0 403.5,142.0 405.3,138.5 406.5,135.9" stroke="#d62728" stroke-width="1.4"/>
<path d="M413.7,117.0 414.9,116.6 415.8,120.2 417.0,129.8 418.4,140.3 420.2,146.4 421.9,147.3 423.3,148.7 424.9,144.7 426.7,139.4 428.4,136.8 429.8,137.3 431.6,135.0 433.0,136.8 434.2,134.5 435.4,135.9 436.8,141.2 438.6,143.8 440.3,144.7 443.0,142.9 445.6,140.6 448.2,138.5 450.0,137.7 451.7,139.9 453.5,139.4 455.2,138.2 457.0,141.2 458.7,136.8 459.6,132.4 461.0,131.5 461.9,133.3 463.1,128.9 464.9,128.0 467.5,127.2 469.2,128.0 471.0,130.7 473.6,135.0 476.2,140.3 478.9,145.6 481.5,149.9 484.1,147.3 481.8,148.2 484.4,146.9 487.0,144.7 489.6,145.9 492.3,149.1 494.0,151.7" stroke="#d62728" stroke-width="1.4"/>
<path d="M501.9,146.9 504.5,149.9 507.1,152.6 509.8,150.8 512.4,147.3 514.5,140.3 516.3,133.3 518.2,128.4 519.4,130.7 521.2,138.5 522.9,144.7 525.2,149.1 527.3,150.8 529.9,151.2 532.5,150.4 534.7,147.3 536.4,142.9 538.2,139.9 539.6,144.7 541.0,149.1 543.1,151.2 545.7,150.8 548.0,149.6 549.5,150.8" stroke="#d62728" stroke-width="1.4"/>
<path d="M556.5,150.3 559.7,150.4 562.3,148.2 564.4,143.8 565.8,138.5 566.7,131.5 567.6,117.5 568.6,107.0 569.7,102.6 570.7,107.0 572.0,112.3 573.7,119.3 575.5,126.3 576.9,130.7 578.1,131.5 579.5,124.5 580.7,119.3 582.1,116.6 583.4,117.5 584.6,122.8 586.0,123.7 587.7,121.9 590.4,122.8 593.0,125.4 594.7,128.9 596.5,129.8 598.2,128.0 599.2,128.0 600.9,125.4 602.3,124.5 603.5,127.2 604.9,128.9 606.5,126.3 607.9,128.0 609.7,130.7 611.4,133.3 613.2,135.9 614.9,139.4 616.7,141.2 618.4,143.8 620.2,146.4 621.9,148.2 623.7,147.3 625.4,144.7 627.2,142.9 628.9,141.2 630.2,140.3 631.6,143.8 633.3,144.7 635.1,142.9 636.8,143.8 638.6,145.6 640.3,146.4 642.1,145.6 643.8,143.8 645.6,139.4 647.3,135.0 649.1,131.5 650.8,132.1 652.1,131.2 653.5,131.9 654.3,131.5 655.7,135.0 657.0,137.7 658.7,139.4" stroke="#d62728" stroke-width="1.4"/>
</g>
<g clip-path="url(#ca)">
<circle cx="52.0" cy="94.4" r="3.5" fill="#000"/>
<circle cx="59.35" cy="55.0" r="3.5" fill="#000"/>
<circle cx="72.0" cy="56.4" r="3.5" fill="#000"/>
<circle cx="79.3" cy="41.9" r="3.5" fill="#000"/>
<circle cx="94.7" cy="47.8" r="3.5" fill="#000"/>
<circle cx="101.0" cy="52.2" r="3.5" fill="#000"/>
<circle cx="113.7" cy="54.3" r="3.5" fill="#000"/>
<circle cx="120.3" cy="57.4" r="3.5" fill="#000"/>
<circle cx="133.5" cy="75.8" r="3.5" fill="#000"/>
<circle cx="140.6" cy="79.0" r="3.5" fill="#000"/>
<circle cx="153.9" cy="94.4" r="3.5" fill="#000"/>
<circle cx="174.2" cy="100.4" r="3.5" fill="#000"/>
<circle cx="183.1" cy="102.9" r="3.5" fill="#000"/>
<circle cx="202.6" cy="112.5" r="3.5" fill="#000"/>
<circle cx="215.0" cy="117.4" r="3.5" fill="#000"/>
<circle cx="223.6" cy="120.0" r="3.5" fill="#000"/>
<circle cx="236.2" cy="123.9" r="3.5" fill="#000"/>
<circle cx="244.1" cy="125.3" r="3.5" fill="#000"/>
<circle cx="256.7" cy="131.3" r="3.5" fill="#000"/>
<circle cx="276.9" cy="142.0" r="3.5" fill="#000"/>
<circle cx="297.6" cy="141.3" r="3.5" fill="#000"/>
<circle cx="304.6" cy="136.8" r="3.5" fill="#000"/>
<circle cx="318.1" cy="149.6" r="3.5" fill="#000"/>
<circle cx="324.2" cy="144.3" r="3.5" fill="#000"/>
<circle cx="364.5" cy="152.6" r="3.5" fill="#000"/>
<circle cx="381.1" cy="160.1" r="3.5" fill="#000"/>
<circle cx="386.9" cy="161.0" r="3.5" fill="#000"/>
<circle cx="401.3" cy="159.0" r="3.5" fill="#000"/>
<circle cx="407.6" cy="156.9" r="3.5" fill="#000"/>
<circle cx="419.3" cy="155.5" r="3.5" fill="#000"/>
<circle cx="428.1" cy="160.4" r="3.5" fill="#000"/>
<circle cx="441.6" cy="146.4" r="3.5" fill="#000"/>
<circle cx="447.3" cy="156.9" r="3.5" fill="#000"/>
<circle cx="461.0" cy="156.9" r="3.5" fill="#000"/>
<circle cx="467.1" cy="143.8" r="3.5" fill="#000"/>
<circle cx="481.6" cy="152.0" r="3.5" fill="#000"/>
<circle cx="487.9" cy="140.3" r="3.5" fill="#000"/>
<circle cx="502.2" cy="132.4" r="3.5" fill="#000"/>
<circle cx="508.6" cy="132.9" r="3.5" fill="#000"/>
<circle cx="522.6" cy="149.1" r="3.5" fill="#000"/>
<circle cx="529.1" cy="142.9" r="3.5" fill="#000"/>
<circle cx="543.1" cy="126.8" r="3.5" fill="#000"/>
<circle cx="549.7" cy="140.3" r="3.5" fill="#000"/>
<circle cx="563.6" cy="132.4" r="3.5" fill="#000"/>
<circle cx="569.7" cy="136.4" r="3.5" fill="#000"/>
<circle cx="583.9" cy="144.3" r="3.5" fill="#000"/>
<circle cx="590.0" cy="134.5" r="3.5" fill="#000"/>
<circle cx="606.5" cy="143.3" r="3.5" fill="#000"/>
<circle cx="607.6" cy="156.9" r="3.5" fill="#000"/>
<circle cx="617.2" cy="139.9" r="3.5" fill="#000"/>
<circle cx="638.2" cy="147.3" r="3.5" fill="#000"/>
<circle cx="644.7" cy="151.7" r="3.5" fill="#000"/>
<circle cx="660.8" cy="144.7" r="3.5" fill="#000"/>
<circle cx="662.8" cy="156.1" r="3.5" fill="#000"/>
<circle cx="671.9" cy="155.2" r="3.5" fill="#000"/>
<circle cx="52.0" cy="107.3" r="3.5" fill="#2d8a1e"/>
<circle cx="59.35" cy="67.3" r="3.5" fill="#2d8a1e"/>
<circle cx="72.1" cy="126.0" r="3.5" fill="#2d8a1e"/>
<circle cx="79.7" cy="86.6" r="3.5" fill="#2d8a1e"/>
<circle cx="94.5" cy="83.6" r="3.5" fill="#2d8a1e"/>
<circle cx="101.3" cy="75.3" r="3.5" fill="#2d8a1e"/>
<circle cx="113.4" cy="77.0" r="3.5" fill="#2d8a1e"/>
<circle cx="120.3" cy="71.9" r="3.5" fill="#2d8a1e"/>
<circle cx="133.5" cy="80.5" r="3.5" fill="#2d8a1e"/>
<circle cx="140.6" cy="86.6" r="3.5" fill="#2d8a1e"/>
<circle cx="154.3" cy="109.5" r="3.5" fill="#2d8a1e"/>
<circle cx="161.3" cy="91.1" r="3.5" fill="#2d8a1e"/>
<circle cx="174.5" cy="110.9" r="3.5" fill="#2d8a1e"/>
<circle cx="182.8" cy="114.3" r="3.5" fill="#2d8a1e"/>
<circle cx="202.0" cy="122.1" r="3.5" fill="#2d8a1e"/>
<circle cx="215.3" cy="126.2" r="3.5" fill="#2d8a1e"/>
<circle cx="223.1" cy="128.3" r="3.5" fill="#2d8a1e"/>
<circle cx="235.8" cy="131.8" r="3.5" fill="#2d8a1e"/>
<circle cx="243.4" cy="130.9" r="3.5" fill="#2d8a1e"/>
<circle cx="256.5" cy="136.8" r="3.5" fill="#2d8a1e"/>
<circle cx="263.8" cy="133.6" r="3.5" fill="#2d8a1e"/>
<circle cx="276.9" cy="145.2" r="3.5" fill="#2d8a1e"/>
<circle cx="283.9" cy="139.4" r="3.5" fill="#2d8a1e"/>
<circle cx="297.6" cy="152.6" r="3.5" fill="#2d8a1e"/>
<circle cx="304.6" cy="143.8" r="3.5" fill="#2d8a1e"/>
<circle cx="318.1" cy="153.1" r="3.5" fill="#2d8a1e"/>
<circle cx="366.5" cy="165.8" r="3.5" fill="#2d8a1e"/>
<circle cx="379.0" cy="167.1" r="3.5" fill="#2d8a1e"/>
<circle cx="386.0" cy="165.3" r="3.5" fill="#2d8a1e"/>
<circle cx="399.5" cy="168.3" r="3.5" fill="#2d8a1e"/>
<circle cx="406.7" cy="165.3" r="3.5" fill="#2d8a1e"/>
<circle cx="419.8" cy="167.1" r="3.5" fill="#2d8a1e"/>
<circle cx="427.5" cy="164.8" r="3.5" fill="#2d8a1e"/>
<circle cx="440.3" cy="166.6" r="3.5" fill="#2d8a1e"/>
<circle cx="448.7" cy="157.3" r="3.5" fill="#2d8a1e"/>
<circle cx="460.8" cy="165.3" r="3.5" fill="#2d8a1e"/>
<circle cx="468.0" cy="162.5" r="3.5" fill="#2d8a1e"/>
<circle cx="488.2" cy="165.2" r="3.5" fill="#2d8a1e"/>
<circle cx="501.9" cy="164.5" r="3.5" fill="#2d8a1e"/>
<circle cx="508.9" cy="165.7" r="3.5" fill="#2d8a1e"/>
<circle cx="522.0" cy="165.3" r="3.5" fill="#2d8a1e"/>
<circle cx="529.1" cy="166.0" r="3.5" fill="#2d8a1e"/>
<circle cx="542.5" cy="168.7" r="3.5" fill="#2d8a1e"/>
<circle cx="550.1" cy="167.4" r="3.5" fill="#2d8a1e"/>
<circle cx="563.2" cy="168.7" r="3.5" fill="#2d8a1e"/>
<circle cx="570.2" cy="168.7" r="3.5" fill="#2d8a1e"/>
<circle cx="590.6" cy="170.1" r="3.5" fill="#2d8a1e"/>
<circle cx="606.2" cy="170.1" r="3.5" fill="#2d8a1e"/>
<circle cx="617.2" cy="160.4" r="3.5" fill="#2d8a1e"/>
<circle cx="637.7" cy="169.7" r="3.5" fill="#2d8a1e"/>
<circle cx="645.1" cy="166.0" r="3.5" fill="#2d8a1e"/>
<circle cx="660.5" cy="165.7" r="3.5" fill="#2d8a1e"/>
<circle cx="672.4" cy="163.4" r="3.5" fill="#2d8a1e"/>
<circle cx="685.2" cy="168.0" r="3.5" fill="#2d8a1e"/>
</g>
<rect x="35.5" y="0.5" width="647.4" height="182.5" fill="none" stroke="#222" stroke-width="0.9"/>
<line x1="31.8" y1="18.3" x2="35.5" y2="18.3" stroke="#222" stroke-width="0.8"/>
<text x="30.9" y="21.9" font-size="10.15" text-anchor="end">10<tspan font-size="7.1" dy="-3.9">4</tspan></text>
<line x1="31.8" y1="64.3" x2="35.5" y2="64.3" stroke="#222" stroke-width="0.8"/>
<text x="30.9" y="67.9" font-size="10.15" text-anchor="end">10<tspan font-size="7.1" dy="-3.9">3</tspan></text>
<line x1="31.8" y1="110.3" x2="35.5" y2="110.3" stroke="#222" stroke-width="0.8"/>
<text x="30.9" y="113.9" font-size="10.15" text-anchor="end">10<tspan font-size="7.1" dy="-3.9">2</tspan></text>
<line x1="31.8" y1="156.3" x2="35.5" y2="156.3" stroke="#222" stroke-width="0.8"/>
<text x="30.9" y="159.9" font-size="10.15" text-anchor="end">10<tspan font-size="7.1" dy="-3.9">1</tspan></text>
<line x1="33.4" y1="4.5" x2="35.5" y2="4.5" stroke="#222" stroke-width="0.6"/>
<line x1="33.4" y1="50.5" x2="35.5" y2="50.5" stroke="#222" stroke-width="0.6"/>
<line x1="33.4" y1="42.4" x2="35.5" y2="42.4" stroke="#222" stroke-width="0.6"/>
<line x1="33.4" y1="36.6" x2="35.5" y2="36.6" stroke="#222" stroke-width="0.6"/>
<line x1="33.4" y1="32.1" x2="35.5" y2="32.1" stroke="#222" stroke-width="0.6"/>
<line x1="33.4" y1="28.5" x2="35.5" y2="28.5" stroke="#222" stroke-width="0.6"/>
<line x1="33.4" y1="25.4" x2="35.5" y2="25.4" stroke="#222" stroke-width="0.6"/>
<line x1="33.4" y1="22.8" x2="35.5" y2="22.8" stroke="#222" stroke-width="0.6"/>
<line x1="33.4" y1="20.4" x2="35.5" y2="20.4" stroke="#222" stroke-width="0.6"/>
<line x1="33.4" y1="96.5" x2="35.5" y2="96.5" stroke="#222" stroke-width="0.6"/>
<line x1="33.4" y1="88.4" x2="35.5" y2="88.4" stroke="#222" stroke-width="0.6"/>
<line x1="33.4" y1="82.6" x2="35.5" y2="82.6" stroke="#222" stroke-width="0.6"/>
<line x1="33.4" y1="78.1" x2="35.5" y2="78.1" stroke="#222" stroke-width="0.6"/>
<line x1="33.4" y1="74.5" x2="35.5" y2="74.5" stroke="#222" stroke-width="0.6"/>
<line x1="33.4" y1="71.4" x2="35.5" y2="71.4" stroke="#222" stroke-width="0.6"/>
<line x1="33.4" y1="68.8" x2="35.5" y2="68.8" stroke="#222" stroke-width="0.6"/>
<line x1="33.4" y1="66.4" x2="35.5" y2="66.4" stroke="#222" stroke-width="0.6"/>
<line x1="33.4" y1="142.5" x2="35.5" y2="142.5" stroke="#222" stroke-width="0.6"/>
<line x1="33.4" y1="134.4" x2="35.5" y2="134.4" stroke="#222" stroke-width="0.6"/>
<line x1="33.4" y1="128.6" x2="35.5" y2="128.6" stroke="#222" stroke-width="0.6"/>
<line x1="33.4" y1="124.1" x2="35.5" y2="124.1" stroke="#222" stroke-width="0.6"/>
<line x1="33.4" y1="120.5" x2="35.5" y2="120.5" stroke="#222" stroke-width="0.6"/>
<line x1="33.4" y1="117.4" x2="35.5" y2="117.4" stroke="#222" stroke-width="0.6"/>
<line x1="33.4" y1="114.8" x2="35.5" y2="114.8" stroke="#222" stroke-width="0.6"/>
<line x1="33.4" y1="112.4" x2="35.5" y2="112.4" stroke="#222" stroke-width="0.6"/>
<line x1="33.4" y1="180.4" x2="35.5" y2="180.4" stroke="#222" stroke-width="0.6"/>
<line x1="33.4" y1="174.6" x2="35.5" y2="174.6" stroke="#222" stroke-width="0.6"/>
<line x1="33.4" y1="170.1" x2="35.5" y2="170.1" stroke="#222" stroke-width="0.6"/>
<line x1="33.4" y1="166.5" x2="35.5" y2="166.5" stroke="#222" stroke-width="0.6"/>
<line x1="33.4" y1="163.4" x2="35.5" y2="163.4" stroke="#222" stroke-width="0.6"/>
<line x1="33.4" y1="160.8" x2="35.5" y2="160.8" stroke="#222" stroke-width="0.6"/>
<line x1="33.4" y1="158.4" x2="35.5" y2="158.4" stroke="#222" stroke-width="0.6"/>
<text transform="translate(7.7,91.7) rotate(-90)" font-size="10.15" text-anchor="middle">Methane conc. [nM]</text>
<text x="42" y="174" font-size="14" class="b">a</text>
<rect x="510.6" y="5.5" width="167" height="63" rx="2" fill="#fff" fill-opacity="0.8" stroke="#d8d8d8" stroke-width="0.8"/>
<line x1="513.6" y1="13.8" x2="535.8" y2="13.8" stroke="#8fbcdb" stroke-width="1.3"/>
<line x1="513.6" y1="29.1" x2="535.8" y2="29.1" stroke="#d62728" stroke-width="1.3"/>
<circle cx="524.7" cy="44.7" r="3.5" fill="#000"/>
<circle cx="524.7" cy="60" r="3.5" fill="#2d8a1e"/>
<text x="543.5" y="17.5" font-size="10.25">Glider observations</text>
<text x="543.5" y="32.8" font-size="10.25">num. model</text>
<text x="543.5" y="48.1" font-size="10.25">SPOOP (daily max.)</text>
<text x="543.5" y="63.4" font-size="10.25">SPOOP (closest to Glider)</text>
</g>
<g id="panel-b">
<line x1="124.9" y1="183.0" x2="124.9" y2="227.8" stroke="#b8b8b8" stroke-width="0.8"/>
<line x1="240.6" y1="183.0" x2="240.6" y2="227.8" stroke="#b8b8b8" stroke-width="0.8"/>
<line x1="335.9" y1="183.0" x2="335.9" y2="227.8" stroke="#b8b8b8" stroke-width="0.8"/>
<line x1="444.7" y1="183.0" x2="444.7" y2="227.8" stroke="#b8b8b8" stroke-width="0.8"/>
<line x1="540.0" y1="183.0" x2="540.0" y2="227.8" stroke="#b8b8b8" stroke-width="0.8"/>
<line x1="655.7" y1="183.0" x2="655.7" y2="227.8" stroke="#b8b8b8" stroke-width="0.8"/>
<line x1="35.5" y1="204.3" x2="682.9" y2="204.3" stroke="#b8b8b8" stroke-width="0.8"/>
<g clip-path="url(#cb)" fill="none" stroke-linejoin="round" stroke-linecap="round">
<path d="M59.9,201.5 62.6,207.6 64.6,212.3 66.1,212.7 68.7,206.6 71.8,199.4 74.8,192.7 76.5,190.6 78.5,197.4 81.0,204.5 83.6,211.7 86.1,216.8 87.7,217.2 89.8,213.7 91.2,211.7 92.6,215.2 94.3,216.8 96.3,214.7 99.4,207.6 102.5,200.4 104.9,194.3 106.5,190.6 108.6,196.3 111.6,203.5 114.7,209.6 117.4,213.7 119.2,214.3 120.8,212.3 122.5,214.3 123.9,212.7 126.0,207.6 128.6,200.4 131.1,194.3 133.1,190.6 135.2,196.3 137.6,203.5 140.3,209.6 142.3,213.7 144.3,214.7 147.4,214.7 150.5,213.7 152.5,212.7 153.5,214.7 155.6,213.7 156.6,214.3" stroke="#3d7fba" stroke-width="2.1"/>
<path d="M163.3,214.7 165.8,214.3 168.9,212.7 170.9,213.1 173.0,210.7 174.1,208.6 177.2,200.4 179.8,193.3 181.2,191.2 183.3,197.4 185.3,203.5 187.4,207.6 189.4,209.6 191.5,211.7 193.5,213.7 195.6,214.7 198.6,214.3 200.7,212.7 202.1,213.7 203.7,211.7 205.8,205.6 208.4,198.4 210.5,192.7 211.5,191.2 213.3,196.3 215.4,203.5 217.4,208.6 220.1,212.3 223.1,213.7 226.2,214.7 229.3,215.2 232.3,214.3 234.4,214.1 236.0,213.3" stroke="#3d7fba" stroke-width="2.1"/>
<path d="M243.6,210.7 244.2,213.7 245.6,210.7 247.7,202.5 249.7,195.3 251.3,190.6 253.4,197.4 255.8,203.5 258.9,207.6 262.0,211.7 264.4,214.3 267.1,215.2 269.1,213.7 270.6,212.7 271.6,214.3 273.2,210.7 275.9,203.5 278.3,196.3 280.4,191.2 282.4,197.4 284.9,203.5 287.5,209.6 290.2,213.7 292.2,215.2 294.3,213.1 295.7,212.3 297.1,214.3 299.2,211.7 301.8,204.5 304.3,197.4 304.5,195.3 306.5,190.2 308.6,196.3 311.2,202.5 313.3,205.6 314.7,200.4 316.8,193.3 318.4,188.6 320.4,188.2 322.5,189.2 324.1,189.6" stroke="#3d7fba" stroke-width="2.1"/>
<path d="M340.5,212.3 341.9,215.2 343.9,215.8 346.0,213.7 348.0,208.6 350.7,202.5 353.1,196.3 354.8,191.2 356.2,195.3 358.2,199.4 361.3,202.1 364.4,204.9 367.4,206.6 370.5,208.2 373.6,209.6 376.6,211.3 379.7,213.3 381.8,214.3 384.2,213.7 385.8,212.3 387.5,214.3 388.9,213.7 390.3,208.6 392.0,201.5 393.6,194.3 395.0,189.6 397.1,192.3 399.1,195.3 401.2,199.4 402.6,201.5 403.8,197.4 405.3,192.3 406.3,190.2" stroke="#3d7fba" stroke-width="2.1"/>
<path d="M413.8,210.7 415.5,213.7 416.9,209.6 418.5,201.5 420.2,194.3 421.6,190.6 423.6,194.3 425.7,197.4 428.4,199.4 430.8,198.0 432.9,196.8 434.9,198.0 436.9,198.4 436.1,198.0 438.2,199.4 440.2,203.5 443.3,208.6 446.4,212.3 449.4,214.7 452.1,215.8 453.5,214.3 454.9,212.7 456.2,214.7 457.6,214.3 459.0,209.6 460.7,201.5 462.3,193.3 463.7,190.6 466.4,188.8 468.8,188.2 471.9,188.8 474.6,190.6 477.0,194.7 479.5,200.4 481.5,205.6 483.6,211.7 485.2,214.7 486.6,215.2 487.8,212.7 489.3,213.7 491.3,215.2 493.8,216.2" stroke="#3d7fba" stroke-width="2.1"/>
<path d="M501.9,211.3 504.0,213.7 506.6,215.8 508.7,212.7 510.7,207.6 512.8,201.5 514.8,195.3 516.9,189.2 518.5,185.1 519.9,190.2 522.0,196.3 524.0,200.4 526.1,203.5 528.1,207.6 530.1,210.2 532.2,214.7 534.2,219.8 535.9,223.9 536.9,226.0 537.9,221.9 539.3,223.9 540.8,220.9 542.0,216.8 543.4,217.8 544.9,217.4 546.5,216.4 548.1,212.7 549.1,208.6 549.6,206.6" stroke="#3d7fba" stroke-width="2.1"/>
<path d="M556.9,214.3 559.3,217.8 562.4,220.9 565.0,223.3 566.9,223.9 568.5,220.9 570.5,216.8 572.2,213.7 573.6,216.8 575.2,219.8 576.3,221.9 577.7,218.8 579.3,219.8 581.4,217.8 583.4,213.7 584.9,211.7 586.5,215.8 588.5,220.9 590.4,223.9 591.6,224.6 593.6,219.8 596.1,213.7 598.5,208.6 600.2,203.5 602.2,196.3 604.7,190.6 606.3,194.3 608.0,197.4 610.0,199.4 612.5,203.5 615.5,208.6 617.5,211.7 620.2,214.3 622.7,217.8 625.1,221.9 626.8,224.6 627.8,225.4 629.2,221.9 630.4,218.8 631.9,219.8 633.3,218.4 634.9,215.8 637.0,211.7 638.6,214.7 640.6,219.8 642.1,223.9 643.1,224.6 644.7,219.8 646.8,213.7 648.8,207.6 650.9,199.4 652.3,193.3 653.3,191.2 655.0,195.3 656.4,199.4 657.8,198.8 659.5,201.5 661.5,205.6 663.5,209.6 666.2,212.7" stroke="#3d7fba" stroke-width="2.1"/>
</g>
<rect x="35.5" y="183.0" width="647.4" height="44.80000000000001" fill="none" stroke="#222" stroke-width="0.9"/>
<line x1="31.8" y1="204.3" x2="35.5" y2="204.3" stroke="#222" stroke-width="0.8"/>
<text x="31.3" y="208.1" font-size="10.15" text-anchor="end">20</text>
<line x1="31.8" y1="227.2" x2="35.5" y2="227.2" stroke="#222" stroke-width="0.8"/>
<text x="31.3" y="231.0" font-size="10.15" text-anchor="end">0</text>
<line x1="124.9" y1="227.8" x2="124.9" y2="231.5" stroke="#222" stroke-width="0.8"/>
<text x="124.9" y="241.5" font-size="10.15" text-anchor="middle">2022-10-15</text>
<line x1="240.6" y1="227.8" x2="240.6" y2="231.5" stroke="#222" stroke-width="0.8"/>
<text x="240.6" y="241.5" font-size="10.15" text-anchor="middle">2022-11-01</text>
<line x1="335.9" y1="227.8" x2="335.9" y2="231.5" stroke="#222" stroke-width="0.8"/>
<text x="335.9" y="241.5" font-size="10.15" text-anchor="middle">2022-11-15</text>
<line x1="444.7" y1="227.8" x2="444.7" y2="231.5" stroke="#222" stroke-width="0.8"/>
<text x="444.7" y="241.5" font-size="10.15" text-anchor="middle">2022-12-01</text>
<line x1="540.0" y1="227.8" x2="540.0" y2="231.5" stroke="#222" stroke-width="0.8"/>
<text x="540.0" y="241.5" font-size="10.15" text-anchor="middle">2022-12-15</text>
<line x1="655.7" y1="227.8" x2="655.7" y2="231.5" stroke="#222" stroke-width="0.8"/>
<text x="655.7" y="241.5" font-size="10.15" text-anchor="middle">2023-01-01</text>
<text x="359.5" y="253.5" font-size="10.15" text-anchor="middle">date</text>
<text transform="translate(12.7,205.5) rotate(-90)" font-size="10.15" text-anchor="middle">dist. [km]</text>
<text x="42.6" y="219.5" font-size="14" class="b">b</text>
</g>
<defs><g id="basemap">
<g fill="#d6b786" stroke="#000" stroke-width="0.9" stroke-linejoin="round" filter="url(#rough)">
<path d="M-5.0,-5.0 118.4,-5.0 118.4,0.1 120.4,2.1 122.0,4.7 121.5,6.7 119.9,8.3 118.4,10.3 119.4,12.3 120.4,14.9 119.9,17.5 118.4,20.0 116.9,22.6 114.8,24.6 112.2,26.2 110.2,27.7 108.7,29.2 106.6,30.3 105.6,26.7 104.8,21.6 104.1,31.3 102.0,32.3 100.0,33.3 97.9,34.4 95.4,34.4 91.3,33.8 87.2,34.7 90.2,36.4 93.8,37.4 95.9,38.5 95.4,41.0 95.9,38.1 94.9,41.1 95.4,44.2 93.8,47.3 93.3,50.4 91.8,52.4 93.8,54.4 92.8,57.5 93.3,60.6 93.8,63.6 92.8,66.7 91.8,69.8 92.3,72.9 91.3,75.9 90.8,79.0 91.3,77.0 90.1,80.6 88.7,84.3 87.6,87.9 86.8,91.6 85.7,93.4 83.3,94.5 81.1,95.3 79.7,93.8 77.5,94.8 73.8,94.5 70.1,95.3 67.2,96.7 64.3,98.9 62.1,101.1 61.4,103.3 61.8,105.3 63.3,107.9 62.3,110.0 59.2,112.0 54.1,113.3 49.0,114.0 44.9,113.0 43.3,112.0 42.8,111.0 44.4,109.4 45.4,107.4 44.9,105.3 43.3,103.8 41.8,101.3 43.4,102.5 42.4,99.9 41.4,97.3 40.4,95.3 38.8,92.7 37.8,90.7 39.3,91.2 41.4,92.2 42.6,91.7 41.9,90.2 40.4,88.1 41.9,87.1 43.4,86.1 43.9,84.0 42.4,82.0 40.4,79.9 38.8,77.4 38.8,76.5 36.8,73.9 35.2,70.8 34.2,67.8 33.2,64.7 31.6,61.6 30.6,58.5 29.1,56.5 28.1,52.4 27.0,48.3 26.5,45.2 26.0,42.2 29.1,41.0 29.6,39.5 28.6,37.9 26.5,38.5 25.0,39.0 24.3,36.9 24.0,33.8 23.5,30.8 22.6,28.2 22.2,26.2 23.5,24.6 25.5,25.1 27.0,24.1 25.0,22.1 22.9,21.1 20.9,20.5 19.9,18.5 18.9,15.9 18.1,13.4 18.3,10.3 18.9,7.2 19.9,5.2 20.4,3.1 18.9,2.6 17.3,3.6 16.8,6.2 16.5,9.3 16.3,12.3 15.3,12.9 14.2,9.3 13.7,6.7 14.5,11.3 15.8,14.9 15.3,17.5 14.2,20.0 12.7,22.1 10.7,23.1 8.6,24.1 6.6,23.6 4.5,20.5 5.0,22.1 3.5,24.6 1.5,26.2 0.0,27.7 -5.2,27.7Z"/>
<path d="M-5.2,65.7 0.0,65.7 1.5,63.1 4.0,60.1 7.1,58.0 10.2,57.0 12.7,55.5 15.3,54.1 14.2,56.0 12.7,58.0 12.2,60.6 14.3,61.0 13.2,64.1 12.2,67.1 11.2,70.2 10.2,72.8 9.9,76.3 10.2,79.9 10.7,82.5 12.7,83.7 15.3,84.0 17.3,85.6 16.8,88.1 15.3,90.2 12.7,90.7 10.7,90.2 9.2,91.7 8.6,93.8 7.6,96.3 6.1,98.3 4.0,99.9 2.5,101.4 2.0,104.0 0.0,105.2 -5.7,105.2Z"/>
<path d="M1.5,108.3 3.5,106.3 6.6,105.8 9.7,106.8 11.7,108.8 13.8,111.4 14.3,115.0 13.2,118.0 10.7,119.4 7.6,119.0 4.5,117.5 2.5,115.0 1.3,111.4Z"/>
<path d="M10.7,97.6 12.2,97.0 12.7,100.1 11.7,102.7 10.9,101.1Z"/>
<path d="M17.8,66.1 20.4,65.1 22.4,65.1 21.4,66.6 19.9,68.2 18.4,67.3Z"/>
<path d="M25.2,79.7 27.6,79.7 27.1,81.0 25.5,80.7Z"/>
<path d="M17.6,103.4 21.1,101.3 23.4,99.5 25.7,97.8 24.1,97.1 29.7,96.6 32.5,95.2 35.3,94.3 37.6,94.8 39.0,95.7 39.0,97.1 38.5,100.8 39.0,103.6 39.9,106.4 39.0,107.8 37.1,107.3 35.3,108.3 34.4,110.1 35.8,112.0 37.1,113.4 36.7,115.2 34.4,115.7 31.6,116.6 30.2,117.6 31.1,119.4 33.0,120.8 34.4,121.7 31.6,122.2 30.2,123.1 27.5,119.9 25.7,118.7 22.8,117.0 20.5,115.8 19.3,113.5 19.9,111.2 18.8,108.8 19.3,106.5 21.1,104.8 19.3,104.2Z"/>
<path d="M16.8,123.1 18.9,122.1 21.4,123.1 23.5,124.7 25.5,125.2 27.6,123.7 28.1,125.7 27.6,127.8 25.5,129.3 22.4,129.3 20.4,127.8 17.8,126.7 16.6,125.2Z"/>
<path d="M28.1,122.6 30.1,123.7 31.7,125.2 30.6,127.2 29.1,130.3 28.6,131.3 27.9,127.8 27.6,124.7Z"/>
<path d="M32.7,122.6 35.2,121.4 37.8,121.8 37.3,123.1 34.2,123.7 32.7,124.2Z"/>
<path d="M14.8,117.5 15.8,118.0 13.8,122.6 11.7,126.7 11.2,125.2 12.7,121.6Z"/>
<path d="M5.6,121.1 8.1,123.1 8.6,124.2 7.1,124.0 5.4,122.1Z"/>
<path d="M15.8,132.9 17.8,132.3 19.4,133.9 18.4,135.4 16.3,134.9Z"/>
<path d="M68.6,115.6 69.9,116.1 71.5,117.6 73.3,119.2 73.5,120.5 72.0,121.2 69.9,121.0 68.2,120.2 67.9,117.6Z"/>
<path d="M99.0,65.0 99.8,65.5 99.4,68.8 98.3,71.8 97.3,75.4 96.3,79.0 96.1,78.4 94.7,83.5 93.2,88.7 92.2,92.5 91.0,91.9 91.5,87.2 92.6,82.8 93.9,77.7 94.3,79.0 95.4,75.4 96.5,71.8 97.3,68.8 98.1,65.4Z"/>
<path d="M128.1,48.6 126.4,49.6 123.5,50.2 120.6,50.7 118.3,51.8 116.1,54.5 114.3,57.2 112.6,60.0 111.8,62.7 112.6,65.4 113.2,68.1 113.8,70.8 114.9,72.4 113.8,74.6 112.6,76.2 113.8,76.5 115.5,75.1 116.6,73.0 116.1,71.3 117.8,69.7 119.5,67.5 120.6,65.4 121.8,63.8 123.3,62.7 122.4,61.0 121.8,58.9 121.2,56.7 122.4,55.1 124.1,53.4 125.8,51.3 127.5,49.6Z"/>
<path d="M124.8,39.1 126.4,39.1 125.9,40.3 125.0,40.1Z"/>
<path d="M-7.0,146.1 15.4,146.1 17.6,145.8 19.7,146.6 21.7,145.8 23.2,143.6 25.8,142.0 28.9,140.5 31.4,139.5 33.5,137.9 35.5,135.9 37.0,134.3 39.1,135.9 41.7,136.4 43.7,136.9 45.2,135.9 45.8,133.8 46.8,131.8 48.3,130.3 49.9,129.8 49.3,131.8 51.4,132.3 52.9,132.8 52.4,134.9 53.4,136.9 53.9,139.0 51.9,137.9 50.4,139.5 49.3,141.0 51.4,143.1 53.4,143.6 55.0,145.1 56.5,146.6 58.5,147.7 60.1,148.7 61.6,149.2 63.7,148.7 65.7,148.2 67.8,147.1 71.8,145.4 75.9,143.6 78.4,142.7 80.5,141.5 84.6,140.0 88.2,139.5 90.7,136.9 93.3,133.8 96.9,132.3 99.9,129.8 104.0,127.7 108.1,126.2 112.2,125.1 116.3,124.9 118.4,125.7 119.9,127.7 120.9,130.3 121.4,132.8 123.0,134.9 125.5,136.2 128.6,136.6 132.2,135.9 135.2,134.3 137.8,132.3 139.8,129.8 140.9,126.7 140.7,123.6 140.4,121.0 141.9,120.2 143.4,120.5 150.1,120.5 150.1,170.2 -15.7,170.2Z"/>
<path d="M16.1,132.8 18.6,132.5 19.4,134.3 18.1,135.2 17.1,136.9 16.6,139.5 15.8,137.4Z"/>
<path d="M-3.9,112.3 0.0,112.3 1.3,114.1 0.7,115.8 0.0,116.4 -3.9,116.4Z"/>
<path d="M-3.9,119.9 0.0,119.9 1.7,120.5 2.1,122.8 1.3,124.0 0.0,124.0 -3.9,124.0Z"/>
<path d="M-3.9,125.1 0.0,125.1 1.9,125.7 2.8,128.0 2.5,130.9 1.3,132.1 0.0,131.5 -3.9,131.5Z"/>
<path d="M7.1,101.3 8.2,101.5 8.4,102.7 7.3,102.9Z"/>
<path d="M-4.0,101.5 2.6,102.2 3.8,106.5 2.4,111.5 1.4,117.5 3.0,122.5 2.2,128.5 0.6,133.5 -4.0,134.0Z"/>
<path d="M57.5,150.2 59.6,149.7 62.1,150.2 64.7,150.9 65.2,152.8 63.7,153.8 61.1,153.3 59.1,152.6 57.7,151.5Z" fill="#b0e0e8"/>
<path d="M26.9,98.0 28.8,97.6 30.6,98.0 31.8,100.3 32.0,103.6 31.1,105.7 29.7,105.0 29.0,102.7 27.8,104.1 26.7,102.2 26.2,99.9Z" fill="#b0e0e8"/>
<path d="M44.6,132.4 46.8,131.0 48.3,132.9 47.1,134.6 46.3,137.1 44.9,136.2Z" fill="#b0e0e8"/>
<path d="M118.4,125.7 121.4,126.7 124.0,128.2 125.7,130.1" fill="none" stroke-width="0.9"/>
<path d="M118.9,3.1 122.2,5.0 119.9,7.0 123.2,8.1 118.9,9.5 121.8,11.1 115.8,12.3 120.8,13.4 110.2,14.9 116.0,15.7 111.5,17.1 119.9,16.0 117.7,18.5 120.7,17.7 115.8,20.3 119.1,21.1 113.8,23.1 117.1,23.6 111.7,25.6 115.0,26.3 109.7,27.7 112.4,28.3 107.8,29.8 105.6,27.5 105.2,22.6 104.6,27.7 102.5,30.8 99.5,32.8 96.9,33.8 90.2,35.1 87.7,34.5 91.3,35.9 95.4,37.7 94.3,39.2" fill="none" stroke-width="0.8"/>
<path d="M123.0,4.2 123.8,4.6" fill="none" stroke-width="0.8"/>
<path d="M125.0,7.2 125.7,7.6" fill="none" stroke-width="0.8"/>
<path d="M127.1,13.2 127.7,13.6" fill="none" stroke-width="0.8"/>
<path d="M131.0,3.4 131.4,4.4" fill="none" stroke-width="0.8"/>
<path d="M123.0,12.3 123.6,14.4" fill="none" stroke-width="0.8"/>
<path d="M117.9,22.1 118.7,22.6" fill="none" stroke-width="0.8"/>
<path d="M89.2,35.0 96.9,37.0 93.8,39.1 97.2,41.4 93.3,43.2 95.9,45.2 93.1,47.8 95.4,49.3 90.2,51.9 94.3,53.2 91.3,55.5 94.1,57.0 91.8,59.6 93.8,60.6 92.3,63.6 94.1,65.7 91.3,68.8 92.5,70.3 90.8,72.9" fill="none" stroke-width="0.8"/>
<path d="M13.7,6.7 14.2,9.1 15.3,11.3 14.2,7.2 15.1,10.1" fill="none" stroke-width="0.8"/>
<path d="M17.1,4.0 18.6,3.1 19.8,3.5 19.2,6.0 17.9,7.2 17.5,9.3" fill="none" stroke-width="0.8"/>
<path d="M19.9,19.7 23.5,21.6 21.6,22.4 25.7,22.6 23.5,23.8 27.1,24.4 24.5,25.6 22.2,26.9 23.5,27.7" fill="none" stroke-width="0.8"/>
<path d="M4.0,20.3 5.2,22.2 6.1,22.6" fill="none" stroke-width="0.8"/>
<path d="M24.5,38.5 27.6,38.1 29.6,39.2" fill="none" stroke-width="0.8"/>
<path d="M24.0,38.1 28.6,39.1 25.7,41.1 32.2,41.6 27.6,43.7 31.9,45.2 27.0,47.1 31.4,48.3 27.8,50.4 30.6,51.9 28.1,53.9 31.4,56.0 29.6,58.0 32.2,61.8 32.7,64.2" fill="none" stroke-width="0.8"/>
<path d="M44.7,134.3 46.5,132.1 48.5,130.1 47.3,132.8 49.9,132.1 49.3,134.3 52.6,134.3 51.4,136.6 53.9,138.7 50.9,139.0 49.9,141.0 53.4,143.4 54.7,142.7 56.5,146.1 59.6,147.7 61.1,149.7 64.2,149.2 65.7,152.8 64.9,154.6" fill="none" stroke-width="0.8"/>
<path d="M23.5,98.3 25.2,99.9 27.3,98.9 28.1,101.1" fill="none" stroke-width="0.8"/>
<path d="M45.0,133.9 46.5,131.0 48.8,130.0 49.9,132.3 52.4,134.1" fill="none" stroke-width="0.8"/>
<path d="M0.0,70.7 4.5,70.2 8.6,71.8 10.2,72.8" fill="none" stroke-width="0.8"/>
<path d="M2.5,79.9 6.6,79.4 9.7,79.6" fill="none" stroke-width="0.8"/>
<path d="M0.0,75.3 3.0,76.3 4.5,75.3" fill="none" stroke-width="0.8"/>
<path d="M86.2,92.8 84.0,94.8 82.6,93.4 80.4,95.7 78.9,93.4 76.7,95.4 74.5,94.0 72.3,95.4 70.1,94.8 67.5,96.9" fill="none" stroke-width="0.8"/>
<path d="M10.7,107.1 11.5,109.3 12.3,108.1" fill="none" stroke-width="0.8"/>
<path d="M2.5,116.5 4.0,117.7 3.3,115.5" fill="none" stroke-width="0.8"/>
<path d="M19.4,103.7 21.7,102.2 20.4,105.2 22.1,106.5" fill="none" stroke-width="0.8"/>
<path d="M33.7,108.3 34.4,110.2 36.5,111.2" fill="none" stroke-width="0.8"/>
<path d="M23.8,143.1 21.7,145.8 19.9,146.4" fill="none" stroke-width="0.8"/>
<path d="M35.2,135.9 37.6,134.3 39.1,136.2 42.2,136.6" fill="none" stroke-width="0.8"/>
<path d="M110.2,15.2 113.0,15.7 115.8,15.4" fill="none" stroke-width="1.5"/>
<path d="M104.9,22.1 105.3,26.9" fill="none" stroke-width="1.5"/>
<path d="M87.4,34.7 91.3,34.5 95.4,34.9" fill="none" stroke-width="1.5"/>
<circle cx="121.46" cy="4.16" r="0.53" fill="#000" stroke="none"/>
<circle cx="123.0" cy="6.72" r="0.64" fill="#000" stroke="none"/>
<circle cx="120.95" cy="8.26" r="0.58" fill="#000" stroke="none"/>
<circle cx="119.93" cy="10.82" r="0.66" fill="#000" stroke="none"/>
<circle cx="122.49" cy="12.35" r="0.67" fill="#000" stroke="none"/>
<circle cx="118.91" cy="13.37" r="0.47" fill="#000" stroke="none"/>
<circle cx="120.44" cy="15.93" r="0.45" fill="#000" stroke="none"/>
<circle cx="117.88" cy="17.47" r="0.74" fill="#000" stroke="none"/>
<circle cx="119.42" cy="19.0" r="0.54" fill="#000" stroke="none"/>
<circle cx="116.86" cy="21.05" r="0.53" fill="#000" stroke="none"/>
<circle cx="115.32" cy="23.1" r="0.80" fill="#000" stroke="none"/>
<circle cx="117.88" cy="22.07" r="0.61" fill="#000" stroke="none"/>
<circle cx="113.28" cy="25.14" r="0.74" fill="#000" stroke="none"/>
<circle cx="110.72" cy="27.19" r="0.62" fill="#000" stroke="none"/>
<circle cx="115.84" cy="24.63" r="0.67" fill="#000" stroke="none"/>
<circle cx="121.16" cy="6.42" r="0.50" fill="#000" stroke="none"/>
<circle cx="119.72" cy="9.08" r="0.67" fill="#000" stroke="none"/>
<circle cx="118.7" cy="11.53" r="0.75" fill="#000" stroke="none"/>
<circle cx="117.37" cy="13.89" r="0.63" fill="#000" stroke="none"/>
<circle cx="116.35" cy="15.93" r="0.71" fill="#000" stroke="none"/>
<circle cx="114.61" cy="17.98" r="0.68" fill="#000" stroke="none"/>
<circle cx="112.97" cy="19.72" r="0.47" fill="#000" stroke="none"/>
<circle cx="111.74" cy="21.36" r="0.72" fill="#000" stroke="none"/>
<circle cx="117.37" cy="19.31" r="0.66" fill="#000" stroke="none"/>
<circle cx="114.3" cy="21.56" r="0.56" fill="#000" stroke="none"/>
<circle cx="112.25" cy="23.81" r="0.46" fill="#000" stroke="none"/>
<circle cx="109.7" cy="25.86" r="0.75" fill="#000" stroke="none"/>
<circle cx="108.16" cy="27.7" r="0.62" fill="#000" stroke="none"/>
<circle cx="95.88" cy="36.54" r="0.70" fill="#000" stroke="none"/>
<circle cx="95.16" cy="39.61" r="0.76" fill="#000" stroke="none"/>
<circle cx="96.19" cy="42.16" r="0.70" fill="#000" stroke="none"/>
<circle cx="94.55" cy="44.72" r="0.77" fill="#000" stroke="none"/>
<circle cx="94.96" cy="48.3" r="0.59" fill="#000" stroke="none"/>
<circle cx="93.12" cy="51.37" r="0.73" fill="#000" stroke="none"/>
<circle cx="93.94" cy="55.98" r="0.61" fill="#000" stroke="none"/>
<circle cx="93.12" cy="59.05" r="0.78" fill="#000" stroke="none"/>
<circle cx="93.63" cy="62.12" r="0.76" fill="#000" stroke="none"/>
<circle cx="92.5" cy="65.7" r="0.48" fill="#000" stroke="none"/>
<circle cx="29.6" cy="40.63" r="0.50" fill="#000" stroke="none"/>
<circle cx="30.83" cy="43.19" r="0.53" fill="#000" stroke="none"/>
<circle cx="29.4" cy="45.75" r="0.79" fill="#000" stroke="none"/>
<circle cx="30.42" cy="48.82" r="0.60" fill="#000" stroke="none"/>
<circle cx="29.19" cy="51.37" r="0.67" fill="#000" stroke="none"/>
<circle cx="30.11" cy="54.44" r="0.56" fill="#000" stroke="none"/>
<circle cx="14.25" cy="8.26" r="0.63" fill="#000" stroke="none"/>
<circle cx="14.86" cy="10.3" r="0.59" fill="#000" stroke="none"/>
<circle cx="21.93" cy="21.36" r="0.57" fill="#000" stroke="none"/>
<circle cx="24.48" cy="23.1" r="0.65" fill="#000" stroke="none"/>
<circle cx="23.46" cy="25.14" r="0.65" fill="#000" stroke="none"/>
</g>
</g>
<g id="grat" fill="none" stroke="#b0b0b4" stroke-opacity="0.92" stroke-width="0.8" stroke-dasharray="2.7 1.5">
<path d="M-7.7,167.4 -0.5,168.0 6.7,168.5 13.9,168.9 21.2,169.3 28.4,169.6 35.6,169.9 42.8,170.1 50.0,170.3 57.3,170.4 64.5,170.5 71.7,170.5 78.9,170.5 86.1,170.4 93.4,170.3 100.6,170.1 107.8,169.9 115.0,169.6 122.2,169.3 129.5,168.9 136.7,168.5 143.9,168.0 151.1,167.4 158.3,166.9"/>
<path d="M-5.8,143.5 1.2,144.0 8.2,144.5 15.3,144.9 22.3,145.3 29.4,145.6 36.4,145.9 43.5,146.1 50.5,146.3 57.6,146.4 64.6,146.5 71.7,146.5 78.8,146.5 85.8,146.4 92.9,146.3 99.9,146.1 107.0,145.9 114.0,145.6 121.1,145.3 128.1,144.9 135.2,144.5 142.2,144.0 149.2,143.5 156.3,142.9"/>
<path d="M-4.0,119.5 2.9,120.0 9.8,120.5 16.7,120.9 23.5,121.3 30.4,121.6 37.3,121.9 44.2,122.1 51.1,122.3 57.9,122.4 64.8,122.5 71.7,122.5 78.6,122.5 85.5,122.4 92.3,122.3 99.2,122.1 106.1,121.9 113.0,121.6 119.9,121.3 126.7,120.9 133.6,120.5 140.5,120.0 147.4,119.5 154.2,118.9"/>
<path d="M-2.1,95.6 4.6,96.1 11.3,96.5 18.0,96.9 24.7,97.3 31.4,97.6 38.2,97.9 44.9,98.1 51.6,98.3 58.3,98.4 65.0,98.5 71.7,98.5 78.4,98.5 85.1,98.4 91.8,98.3 98.5,98.1 105.2,97.9 112.0,97.6 118.7,97.3 125.4,96.9 132.1,96.5 138.8,96.1 145.5,95.6 152.2,95.0"/>
<path d="M-0.1,71.6 6.4,72.1 12.9,72.6 19.4,73.0 26.0,73.3 32.5,73.6 39.0,73.9 45.6,74.1 52.1,74.3 58.6,74.4 65.2,74.5 71.7,74.5 78.2,74.5 84.8,74.4 91.3,74.3 97.8,74.1 104.4,73.9 110.9,73.6 117.4,73.3 124.0,73.0 130.5,72.6 137.0,72.1 143.5,71.6 150.1,71.1"/>
<path d="M1.8,47.6 8.1,48.1 14.5,48.6 20.8,49.0 27.2,49.3 33.6,49.7 39.9,49.9 46.3,50.1 52.6,50.3 59.0,50.4 65.3,50.5 71.7,50.5 78.1,50.5 84.4,50.4 90.8,50.3 97.1,50.1 103.5,49.9 109.8,49.7 116.2,49.3 122.6,49.0 128.9,48.6 135.3,48.1 141.6,47.6 147.9,47.1"/>
<path d="M3.8,23.7 9.9,24.2 16.1,24.6 22.3,25.0 28.5,25.4 34.6,25.7 40.8,25.9 47.0,26.1 53.2,26.3 59.3,26.4 65.5,26.5 71.7,26.5 77.9,26.5 84.1,26.4 90.2,26.3 96.4,26.1 102.6,25.9 108.8,25.7 114.9,25.4 121.1,25.0 127.3,24.6 133.5,24.2 139.6,23.7 145.8,23.2"/>
<path d="M5.8,-0.2 11.7,0.2 17.7,0.7 23.7,1.1 29.7,1.4 35.7,1.7 41.7,1.9 47.7,2.1 53.7,2.3 59.7,2.4 65.7,2.5 71.7,2.5 77.7,2.5 83.7,2.4 89.7,2.3 95.7,2.1 101.7,1.9 107.7,1.7 113.7,1.4 119.7,1.1 125.7,0.7 131.7,0.2 137.6,-0.2 143.6,-0.8"/>
<path d="M34.7,0.0 29.4,156.0"/>
<path d="M71.4,0.0 71.9,156.0"/>
<path d="M108.6,0.0 113.8,156.0"/>
<path d="M-2.5,0.0 -13.0,156.0"/>
<path d="M145.6,0.0 155.8,156.0"/>
</g>
<g id="xmark"><path d="M-2.7,-2.7L2.7,2.7M-2.7,2.7L2.7,-2.7" stroke="#3a2a10" stroke-width="3.5" stroke-linecap="round"/><path d="M-2.7,-2.7L2.7,2.7M-2.7,2.7L2.7,-2.7" stroke="#f2a31f" stroke-width="2.4" stroke-linecap="round"/></g>
</defs>
<g id="map-c" transform="translate(35.6,265.0)">
<g clip-path="url(#cm)">
<rect x="0" y="0" width="143.7" height="156.0" fill="#b0e0e8"/>
<path d="M71.0,110.3 72.4,106.3 75.0,105.0 78.5,105.4 82.1,104.1 85.2,102.8 87.4,104.5 88.7,106.7 87.0,107.6 86.5,111.2 85.2,113.4 82.1,114.2 78.5,113.8 75.9,114.7 73.2,114.2 71.5,112.9Z" fill="#e83f30" fill-opacity="0.95" filter="url(#bl05)"/>
<path d="M71.9,109.4 73.2,106.3 76.8,105.8 78.1,108.5 77.7,112.0 74.6,113.4 72.4,112.0Z" fill="#c4201f" fill-opacity="0.9" filter="url(#bl05)"/>
<path d="M76.8,114.2 82.1,113.8 86.5,113.4 89.6,114.7 90.9,117.3 89.6,120.0 86.5,121.8 82.1,122.2 78.5,121.3 76.8,119.1 77.7,116.5Z" fill="#ee5a45" fill-opacity="0.85" filter="url(#bl05)"/>
<path d="M77.7,114.7 84.7,114.2 89.6,115.1 90.5,118.2 88.3,120.9 83.0,121.8 78.5,120.7 77.2,117.8Z" fill="#fde0d5" fill-opacity="0.9" filter="url(#vein)"/>
<path d="M71.9,124.4 74.1,122.6 77.7,121.8 82.1,122.6 86.5,122.2 88.3,123.5 87.4,126.2 86.5,128.8 86.1,131.9 84.3,133.2 82.1,131.9 79.4,130.6 75.9,130.2 73.2,129.3 71.9,127.1Z" fill="#e83f30" fill-opacity="0.95" filter="url(#bl05)"/>
<path d="M73.2,125.3 76.8,123.5 81.2,124.4 84.3,125.7 83.8,128.8 81.2,130.2 76.8,129.3 73.7,128.0Z" fill="#c4201f" fill-opacity="0.7" filter="url(#bl05)"/>

<use href="#basemap"/>
<use href="#grat"/>
<use href="#xmark" x="82.2" y="108.9"/><use href="#xmark" x="77.7" y="125.3"/>
<rect x="86.2" y="107.2" width="5.4" height="3.3" rx="1.3" fill="#fff"/>
</g>
<rect x="0" y="0" width="143.7" height="156.0" fill="none" stroke="#222" stroke-width="0.9"/>
<rect x="1.2" y="132.9" width="14.2" height="20" fill="#fff"/>
<text x="4.5" y="147.2" font-size="14" class="b">c</text>
<text x="61" y="61.8" font-size="6.6" class="b" text-anchor="middle">Sweden</text>
<text x="31.7" y="154.4" font-size="6.9" class="b" text-anchor="middle">Germany</text>
<text x="89.5" y="153.7" font-size="6.9" class="b" text-anchor="middle">Poland</text>
<text x="71.8" y="-4.3" font-size="10.15" text-anchor="middle">2022-10-05</text>
<text x="16.400000000000002" y="164.3" font-size="10.15" text-anchor="middle">12°E</text>
<text x="59.199999999999996" y="164.3" font-size="10.15" text-anchor="middle">15°E</text>
<text x="102.5" y="164.3" font-size="10.15" text-anchor="middle">18°E</text>
</g>
<g id="map-d" transform="translate(181.1,265.0)">
<g clip-path="url(#cm)">
<rect x="0" y="0" width="143.7" height="156.0" fill="#b0e0e8"/>
<path d="M59.5,103.8 62.7,98.8 67.7,98.2 71.5,99.1 75.2,97.8 79.0,98.6 82.1,99.8 85.3,98.6 89.0,96.1 92.2,94.8 95.3,92.8 96.6,89.4 98.8,91.9 96.6,96.9 93.5,99.5 91.8,102.0 92.6,105.1 94.1,108.9 93.1,112.0 92.6,115.2 94.1,118.3 95.6,120.8 98.1,122.7 99.3,125.0 95.3,126.7 91.8,128.7 89.3,131.7 86.8,135.0 83.4,137.5 79.0,138.8 74.6,138.0 70.8,136.3 67.1,134.6 64.5,132.5 65.8,129.0 68.7,126.5 70.5,123.9 69.2,121.7 66.7,120.7 64.5,118.3 61.7,117.7 59.5,115.2 60.2,110.1Z" fill="#f4705c" fill-opacity="0.85" filter="url(#tex1)"/>
<path d="M61.4,102.6 63.9,100.1 67.7,99.5 71.5,100.1 75.2,98.8 79.0,99.5 82.1,100.7 85.3,99.5 88.4,97.6 90.3,100.1 90.9,101.3 91.6,105.1 92.8,108.9 92.2,112.0 91.6,115.2 92.8,118.3 94.1,120.8 96.0,122.7 94.1,125.2 90.9,127.1 88.4,130.2 85.9,133.4 82.8,135.9 79.0,137.1 75.2,136.5 71.5,134.6 68.7,133.4 67.4,131.5 68.0,129.0 70.2,126.5 72.1,123.9 70.8,121.4 68.0,119.9 66.2,117.4 63.3,116.4 61.4,114.2 62.0,110.1 61.2,106.4Z" fill="#e83f30" fill-opacity="0.92" filter="url(#bl07)"/>
<path d="M74.0,102.6 79.0,101.3 84.0,102.6 88.4,103.8 90.3,108.9 90.1,113.9 90.9,117.9 89.0,121.4 84.7,122.7 80.3,120.8 76.5,118.9 74.0,115.2 72.1,110.1 71.5,105.7Z" fill="#c4201f" fill-opacity="0.65" filter="url(#bl1)"/>
<path d="M85.3,122.7 90.3,121.4 95.3,122.7 96.6,124.6 92.8,126.5 89.7,129.0 87.2,132.1 84.0,134.0 82.8,131.5 84.7,127.7Z" fill="#fcb8a0" fill-opacity="0.8" filter="url(#tex1)"/>
<path d="M74.0,102.6 79.0,101.3 84.0,102.6 88.4,103.8 90.3,108.9 90.1,113.9 90.9,117.9 89.0,121.4 84.7,122.7 80.3,120.8 76.5,118.9 74.0,115.2 72.1,110.1 71.5,105.7Z" fill="#a81a1a" fill-opacity="0.5" filter="url(#tex2)"/>

<use href="#basemap"/>
<use href="#grat"/>
<use href="#xmark" x="82.2" y="108.9"/><use href="#xmark" x="77.7" y="125.3"/>
<rect x="86.2" y="107.2" width="5.4" height="3.3" rx="1.3" fill="#fff"/>
</g>
<rect x="0" y="0" width="143.7" height="156.0" fill="none" stroke="#222" stroke-width="0.9"/>
<rect x="1.2" y="132.9" width="15.8" height="20" fill="#fff"/>
<text x="4.5" y="147.2" font-size="14" class="b">d</text>
<text x="61" y="61.8" font-size="6.6" class="b" text-anchor="middle">Sweden</text>
<text x="31.7" y="154.4" font-size="6.9" class="b" text-anchor="middle">Germany</text>
<text x="89.5" y="153.7" font-size="6.9" class="b" text-anchor="middle">Poland</text>
<text x="71.8" y="-4.3" font-size="10.15" text-anchor="middle">2022-10-15</text>
<text x="16.400000000000002" y="164.3" font-size="10.15" text-anchor="middle">12°E</text>
<text x="59.199999999999996" y="164.3" font-size="10.15" text-anchor="middle">15°E</text>
<text x="102.5" y="164.3" font-size="10.15" text-anchor="middle">18°E</text>
</g>
<g id="map-e" transform="translate(326.5,265.0)">
<g clip-path="url(#cm)">
<rect x="0" y="0" width="143.7" height="156.0" fill="#b0e0e8"/>
<path d="M94.1,76.2 99.7,74.3 107.1,77.1 111.8,83.6 112.7,91.0 110.9,97.5 107.1,103.1 103.4,107.8 105.3,114.3 102.5,118.9 97.8,122.6 96.9,128.2 93.2,132.8 87.6,136.6 81.1,139.3 76.5,142.1 72.2,145.3 66.2,144.6 60.7,142.1 56.6,138.4 55.5,131.9 51.4,129.1 45.8,127.3 41.2,125.4 39.3,120.8 42.1,117.0 49.5,114.8 57.0,112.4 60.7,106.8 60.3,101.2 65.3,95.7 73.7,92.9 83.0,92.9 89.5,89.2 93.2,82.7Z" fill="#fff3ee" fill-opacity="0.7" filter="url(#tex3)"/>
<path d="M96.0,83.9 102.0,83.2 107.2,86.9 109.4,91.4 108.6,95.8 106.4,99.5 104.9,103.2 102.0,106.2 98.2,108.5 94.5,104.7 93.0,97.3 93.8,89.9Z" fill="#f4705c" fill-opacity="0.9" filter="url(#tex1)"/>
<path d="M41.7,120.3 47.7,116.6 54.4,115.2 61.8,114.0 69.2,119.6 71.5,127.0 72.2,134.5 71.5,139.2 61.8,139.2 57.3,136.0 53.6,132.2 49.9,127.0 44.7,124.1Z" fill="#f4705c" fill-opacity="0.9" filter="url(#tex1)"/>
<path d="M88.6,119.6 99.0,118.9 102.0,117.4 99.7,121.1 94.5,126.3 90.8,131.5 85.6,133.7 87.1,127.0Z" fill="#f4705c" fill-opacity="0.9" filter="url(#tex1)"/>
<path d="M61.8,104.0 63.3,100.3 67.0,97.3 71.5,95.1 78.2,95.1 84.1,95.8 88.6,94.3 93.0,93.6 98.2,94.3 102.0,92.8 104.9,95.1 106.4,98.8 104.9,102.5 102.0,105.5 99.0,107.7 97.5,111.4 95.3,113.7 98.2,115.9 101.2,117.4 99.0,119.6 94.5,119.6 92.3,121.8 93.8,125.6 91.5,129.3 87.1,132.2 82.6,134.5 77.4,135.2 73.7,133.7 71.5,130.8 70.0,126.3 68.5,122.6 65.5,120.3 61.8,118.9 58.1,118.1 54.4,119.6 50.6,121.1 48.4,119.6 52.1,116.6 56.6,115.2 60.3,113.7 63.3,110.7 64.0,107.0Z" fill="#e83f30" fill-opacity="0.95" filter="url(#bl07)"/>
<path d="M64.8,103.2 71.5,97.3 84.1,97.3 96.0,95.8 103.4,97.3 102.0,104.0 96.8,110.7 98.2,117.4 91.5,122.6 90.1,130.0 81.1,133.7 74.4,132.2 71.5,124.1 66.3,118.1 64.0,110.7Z" fill="#c4201f" fill-opacity="0.7" filter="url(#tex2)"/>
<path d="M69.2,119.6 78.2,118.1 88.6,119.6 99.0,118.1 104.9,101.8 99.0,97.3 91.5,104.7 84.1,113.7 75.2,124.1 73.7,131.5 84.1,133.0 91.5,127.0Z" fill="#fcc5b0" fill-opacity="0.55" filter="url(#vein)"/>
<path d="M71.5,124.8 81.1,122.6 91.5,121.1 93.8,125.6 91.5,129.3 87.1,132.2 82.6,134.5 77.4,135.2 73.7,133.7 71.5,130.8Z" fill="#fdd5c5" fill-opacity="0.6" filter="url(#tex1)"/>
<path d="M96.8,78.0 103.4,76.5 109.4,81.0 110.9,88.4 109.4,94.3 104.9,92.8 100.5,88.4 97.5,83.9Z" fill="#fff3ee" fill-opacity="0.8" filter="url(#tex3)"/>

<use href="#basemap"/>
<use href="#grat"/>
<use href="#xmark" x="82.2" y="108.9"/><use href="#xmark" x="77.7" y="125.3"/>
<rect x="86.2" y="107.2" width="5.4" height="3.3" rx="1.3" fill="#fff"/>
</g>
<rect x="0" y="0" width="143.7" height="156.0" fill="none" stroke="#222" stroke-width="0.9"/>
<rect x="1.2" y="132.9" width="15.4" height="20" fill="#fff"/>
<text x="4.5" y="147.2" font-size="14" class="b">e</text>
<text x="61" y="61.8" font-size="6.6" class="b" text-anchor="middle">Sweden</text>
<text x="31.7" y="154.4" font-size="6.9" class="b" text-anchor="middle">Germany</text>
<text x="89.5" y="153.7" font-size="6.9" class="b" text-anchor="middle">Poland</text>
<text x="71.8" y="-4.3" font-size="10.15" text-anchor="middle">2022-11-01</text>
<text x="16.400000000000002" y="164.3" font-size="10.15" text-anchor="middle">12°E</text>
<text x="59.199999999999996" y="164.3" font-size="10.15" text-anchor="middle">15°E</text>
<text x="102.5" y="164.3" font-size="10.15" text-anchor="middle">18°E</text>
</g>
<g id="map-f" transform="translate(471.9,265.0)">
<g clip-path="url(#cm)">
<rect x="0" y="0" width="143.7" height="156.0" fill="#b0e0e8"/>
<path d="M14.8,118.5 23.2,113.5 31.6,110.1 38.3,100.1 41.6,105.1 40.0,111.8 48.4,113.5 61.8,111.8 65.1,105.1 68.5,98.4 76.8,96.7 85.2,95.0 94.1,93.4 94.1,140.3 85.2,141.9 76.8,143.6 68.5,146.1 61.8,147.8 55.0,140.3 48.4,133.6 41.6,132.7 35.0,135.2 28.2,138.6 21.6,140.3 16.5,135.2 13.2,126.9Z" fill="#fff3ee" fill-opacity="0.85" filter="url(#tex3)"/>
<path d="M14.8,118.5 23.2,113.5 31.6,110.1 38.3,100.1 41.6,105.1 40.0,111.8 48.4,113.5 61.8,111.8 65.1,105.1 68.5,98.4 76.8,96.7 85.2,95.0 94.1,93.4 94.1,140.3 85.2,141.9 76.8,143.6 68.5,146.1 61.8,147.8 55.0,140.3 48.4,133.6 41.6,132.7 35.0,135.2 28.2,138.6 21.6,140.3 16.5,135.2 13.2,126.9Z" fill="#fff3ee" fill-opacity="0.35" filter="url(#bl1)"/>
<path d="M87.5,93.4 90.8,85.0 94.2,75.0 98.3,71.7 128.5,71.7 131.8,85.0 130.2,98.5 127.7,108.5 126.8,118.5 121.8,108.5 115.1,101.8 106.7,98.5 98.3,96.8 91.7,98.5Z" fill="#fff3ee" fill-opacity="0.9" filter="url(#tex3)"/>
<path d="M90.0,95.1 92.5,85.0 96.7,75.0 103.4,73.3 123.5,75.0 126.8,88.4 125.2,101.8 120.1,106.8 111.8,100.1 101.7,96.8Z" fill="#fff3ee" fill-opacity="0.45" filter="url(#bl1)"/>
<path d="M58.1,101.8 69.9,95.9 81.6,95.1 90.0,96.8 98.3,95.9 111.8,100.1 126.8,110.2 128.5,125.2 121.8,130.3 103.4,125.2 81.6,128.6 68.2,118.5 59.8,111.0Z" fill="#fff3ee" fill-opacity="0.75" filter="url(#bl1)"/>
<path d="M46.4,114.4 54.8,112.7 64.8,114.4 74.9,120.2 85.0,125.2 91.7,124.4 96.7,126.9 90.0,132.8 81.6,137.8 73.2,142.0 66.5,145.3 63.2,142.0 58.1,138.7 51.5,137.0 46.4,130.3Z" fill="#f4705c" fill-opacity="0.7" filter="url(#vein)"/>
<path d="M37.5,112.6 48.4,114.3 61.8,112.6 68.5,118.5 65.1,128.6 55.0,130.2 46.7,125.2 38.3,119.3Z" fill="#f4705c" fill-opacity="0.8" filter="url(#tex1)"/>
<path d="M64.0,106.0 71.5,102.6 81.6,100.1 91.7,98.5 98.3,95.1 103.4,93.4 106.7,97.6 111.8,102.6 118.5,106.8 123.5,111.0 126.0,118.5 126.8,126.9 124.3,129.4 121.8,123.6 118.5,120.2 111.8,121.1 105.0,120.2 98.3,121.1 91.7,123.6 85.0,125.2 79.9,123.6 74.9,120.2 69.9,117.7 64.8,114.4 62.3,110.2Z" fill="#fcb8a0" fill-opacity="0.55" filter="url(#bl1)"/>
<path d="M64.0,106.0 71.5,102.6 81.6,100.1 91.7,98.5 98.3,95.1 103.4,93.4 106.7,97.6 111.8,102.6 118.5,106.8 123.5,111.0 126.0,118.5 126.8,126.9 124.3,129.4 121.8,123.6 118.5,120.2 111.8,121.1 105.0,120.2 98.3,121.1 91.7,123.6 85.0,125.2 79.9,123.6 74.9,120.2 69.9,117.7 64.8,114.4 62.3,110.2Z" fill="#e83f30" fill-opacity="0.95" filter="url(#vein)"/>
<path d="M73.2,105.2 81.6,102.6 91.7,103.5 98.3,106.8 103.4,108.5 110.1,109.3 115.1,113.5 111.8,117.7 103.4,118.2 95.8,116.9 88.3,117.7 79.9,116.9 73.2,111.8Z" fill="#f4705c" fill-opacity="0.6" filter="url(#bl1)"/>
<path d="M68.2,106.8 81.6,101.8 93.3,100.1 101.7,96.8 108.4,100.1 118.5,107.7 124.3,115.2 125.5,125.2 121.8,121.9 115.1,119.4 105.0,119.4 96.7,121.9 86.6,123.6 76.6,119.4 69.0,114.4Z" fill="#e83f30" fill-opacity="0.75" filter="url(#tex2)"/>
<path d="M93.3,109.3 101.7,107.7 110.1,109.3 115.1,113.5 111.8,117.7 103.4,118.2 95.8,116.0Z" fill="#e83f30" fill-opacity="0.6" filter="url(#bl1)"/>

<use href="#basemap"/>
<use href="#grat"/>
<use href="#xmark" x="82.2" y="108.9"/><use href="#xmark" x="77.7" y="125.3"/>
<rect x="86.2" y="107.2" width="5.4" height="3.3" rx="1.3" fill="#fff"/>
</g>
<rect x="0" y="0" width="143.7" height="156.0" fill="none" stroke="#222" stroke-width="0.9"/>
<rect x="1.2" y="132.9" width="12.1" height="20" fill="#fff"/>
<text x="4.5" y="147.2" font-size="14" class="b">f</text>
<text x="61" y="61.8" font-size="6.6" class="b" text-anchor="middle">Sweden</text>
<text x="31.7" y="154.4" font-size="6.9" class="b" text-anchor="middle">Germany</text>
<text x="89.5" y="153.7" font-size="6.9" class="b" text-anchor="middle">Poland</text>
<text x="71.8" y="-4.3" font-size="10.15" text-anchor="middle">2022-12-01</text>
<text x="16.400000000000002" y="164.3" font-size="10.15" text-anchor="middle">12°E</text>
<text x="59.199999999999996" y="164.3" font-size="10.15" text-anchor="middle">15°E</text>
<text x="102.5" y="164.3" font-size="10.15" text-anchor="middle">18°E</text>
</g>
<text x="32.1" y="289.4" font-size="10.15" text-anchor="end">59°<tspan font-style="italic">N</tspan></text>
<text x="32.1" y="313.6" font-size="10.15" text-anchor="end">58°<tspan font-style="italic">N</tspan></text>
<text x="32.1" y="337.8" font-size="10.15" text-anchor="end">57°<tspan font-style="italic">N</tspan></text>
<text x="32.1" y="362.0" font-size="10.15" text-anchor="end">56°<tspan font-style="italic">N</tspan></text>
<text x="32.1" y="386.2" font-size="10.15" text-anchor="end">55°<tspan font-style="italic">N</tspan></text>
<text x="32.1" y="410.4" font-size="10.15" text-anchor="end">54°<tspan font-style="italic">N</tspan></text>
<g id="map-c-extras">
<rect x="38.8" y="271.3" width="72.2" height="7.6" fill="#fff" stroke="#000" stroke-width="0.5"/>
<rect x="38.8" y="271.3" width="35.7" height="3.8" fill="#000"/><rect x="74.5" y="275.1" width="36.5" height="3.8" fill="#000"/>
<text x="39.8" y="284" font-size="4.6" text-anchor="middle">0</text>
<text x="76.5" y="284" font-size="4.6" text-anchor="middle">100</text>
<text x="110.5" y="284" font-size="4.6" text-anchor="middle">200 km</text>
<rect x="134.8" y="268.1" width="42.7" height="21.6" rx="1" fill="#fff" fill-opacity="0.96" stroke="#ccc" stroke-width="0.5"/>
<rect x="138.1" y="271.8" width="12.6" height="4.6" fill="#d6b786"/><rect x="138.1" y="281.4" width="12.6" height="4.6" fill="#b0e0e8"/>
<text x="156.5" y="276.6" font-size="6.4">Land</text><text x="156.5" y="286.2" font-size="6.4">sea</text>
</g>
<g id="colorbar">
<path d="M622.3,280.4 L626.0,274.2 L629.7,280.4 L629.7,405.2 L626.0,411 L622.3,405.2Z" fill="url(#cbg)" stroke="#222" stroke-width="0.7"/>
<line x1="629.7" y1="280.4" x2="633.2" y2="280.4" stroke="#222" stroke-width="0.8"/>
<text x="634.6" y="284.1" font-size="10.15">10<tspan font-size="7.1" dy="-3.9">4</tspan></text>
<line x1="629.7" y1="305.4" x2="633.2" y2="305.4" stroke="#222" stroke-width="0.8"/>
<text x="634.6" y="309.1" font-size="10.15">10<tspan font-size="7.1" dy="-3.9">3</tspan></text>
<line x1="629.7" y1="330.4" x2="633.2" y2="330.4" stroke="#222" stroke-width="0.8"/>
<text x="634.6" y="334.1" font-size="10.15">10<tspan font-size="7.1" dy="-3.9">2</tspan></text>
<line x1="629.7" y1="355.4" x2="633.2" y2="355.4" stroke="#222" stroke-width="0.8"/>
<text x="634.6" y="359.1" font-size="10.15">10<tspan font-size="7.1" dy="-3.9">1</tspan></text>
<line x1="629.7" y1="380.4" x2="633.2" y2="380.4" stroke="#222" stroke-width="0.8"/>
<text x="634.6" y="384.1" font-size="10.15">10<tspan font-size="7.1" dy="-3.9">0</tspan></text>
<line x1="629.7" y1="405.4" x2="633.2" y2="405.4" stroke="#222" stroke-width="0.8"/>
<text x="634.6" y="409.1" font-size="10.15">10<tspan font-size="7.1" dy="-3.9">−1</tspan></text>
<line x1="629.7" y1="297.9" x2="631.7" y2="297.9" stroke="#222" stroke-width="0.5"/>
<line x1="629.7" y1="293.5" x2="631.7" y2="293.5" stroke="#222" stroke-width="0.5"/>
<line x1="629.7" y1="290.3" x2="631.7" y2="290.3" stroke="#222" stroke-width="0.5"/>
<line x1="629.7" y1="287.9" x2="631.7" y2="287.9" stroke="#222" stroke-width="0.5"/>
<line x1="629.7" y1="285.9" x2="631.7" y2="285.9" stroke="#222" stroke-width="0.5"/>
<line x1="629.7" y1="284.3" x2="631.7" y2="284.3" stroke="#222" stroke-width="0.5"/>
<line x1="629.7" y1="282.8" x2="631.7" y2="282.8" stroke="#222" stroke-width="0.5"/>
<line x1="629.7" y1="281.5" x2="631.7" y2="281.5" stroke="#222" stroke-width="0.5"/>
<line x1="629.7" y1="322.9" x2="631.7" y2="322.9" stroke="#222" stroke-width="0.5"/>
<line x1="629.7" y1="318.5" x2="631.7" y2="318.5" stroke="#222" stroke-width="0.5"/>
<line x1="629.7" y1="315.3" x2="631.7" y2="315.3" stroke="#222" stroke-width="0.5"/>
<line x1="629.7" y1="312.9" x2="631.7" y2="312.9" stroke="#222" stroke-width="0.5"/>
<line x1="629.7" y1="310.9" x2="631.7" y2="310.9" stroke="#222" stroke-width="0.5"/>
<line x1="629.7" y1="309.3" x2="631.7" y2="309.3" stroke="#222" stroke-width="0.5"/>
<line x1="629.7" y1="307.8" x2="631.7" y2="307.8" stroke="#222" stroke-width="0.5"/>
<line x1="629.7" y1="306.5" x2="631.7" y2="306.5" stroke="#222" stroke-width="0.5"/>
<line x1="629.7" y1="347.9" x2="631.7" y2="347.9" stroke="#222" stroke-width="0.5"/>
<line x1="629.7" y1="343.5" x2="631.7" y2="343.5" stroke="#222" stroke-width="0.5"/>
<line x1="629.7" y1="340.3" x2="631.7" y2="340.3" stroke="#222" stroke-width="0.5"/>
<line x1="629.7" y1="337.9" x2="631.7" y2="337.9" stroke="#222" stroke-width="0.5"/>
<line x1="629.7" y1="335.9" x2="631.7" y2="335.9" stroke="#222" stroke-width="0.5"/>
<line x1="629.7" y1="334.3" x2="631.7" y2="334.3" stroke="#222" stroke-width="0.5"/>
<line x1="629.7" y1="332.8" x2="631.7" y2="332.8" stroke="#222" stroke-width="0.5"/>
<line x1="629.7" y1="331.5" x2="631.7" y2="331.5" stroke="#222" stroke-width="0.5"/>
<line x1="629.7" y1="372.9" x2="631.7" y2="372.9" stroke="#222" stroke-width="0.5"/>
<line x1="629.7" y1="368.5" x2="631.7" y2="368.5" stroke="#222" stroke-width="0.5"/>
<line x1="629.7" y1="365.3" x2="631.7" y2="365.3" stroke="#222" stroke-width="0.5"/>
<line x1="629.7" y1="362.9" x2="631.7" y2="362.9" stroke="#222" stroke-width="0.5"/>
<line x1="629.7" y1="360.9" x2="631.7" y2="360.9" stroke="#222" stroke-width="0.5"/>
<line x1="629.7" y1="359.3" x2="631.7" y2="359.3" stroke="#222" stroke-width="0.5"/>
<line x1="629.7" y1="357.8" x2="631.7" y2="357.8" stroke="#222" stroke-width="0.5"/>
<line x1="629.7" y1="356.5" x2="631.7" y2="356.5" stroke="#222" stroke-width="0.5"/>
<line x1="629.7" y1="397.9" x2="631.7" y2="397.9" stroke="#222" stroke-width="0.5"/>
<line x1="629.7" y1="393.5" x2="631.7" y2="393.5" stroke="#222" stroke-width="0.5"/>
<line x1="629.7" y1="390.3" x2="631.7" y2="390.3" stroke="#222" stroke-width="0.5"/>
<line x1="629.7" y1="387.9" x2="631.7" y2="387.9" stroke="#222" stroke-width="0.5"/>
<line x1="629.7" y1="385.9" x2="631.7" y2="385.9" stroke="#222" stroke-width="0.5"/>
<line x1="629.7" y1="384.3" x2="631.7" y2="384.3" stroke="#222" stroke-width="0.5"/>
<line x1="629.7" y1="382.8" x2="631.7" y2="382.8" stroke="#222" stroke-width="0.5"/>
<line x1="629.7" y1="381.5" x2="631.7" y2="381.5" stroke="#222" stroke-width="0.5"/>
<text transform="translate(668.3,343) rotate(-90)" font-size="10.15" text-anchor="middle">Methane conc. [nM]</text>
</g>
</svg>
</body></html>
